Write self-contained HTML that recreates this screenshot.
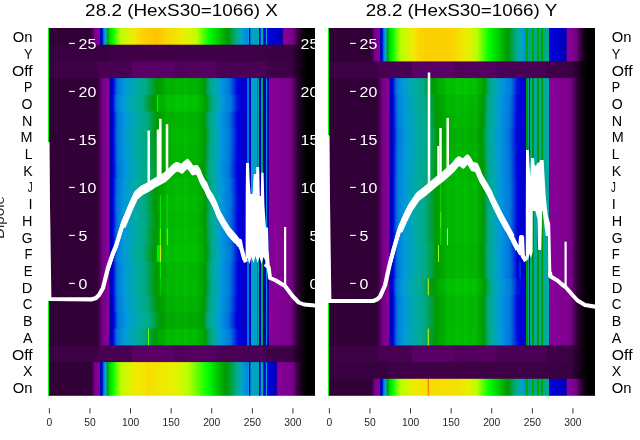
<!DOCTYPE html><html><head><meta charset="utf-8"><title>28.2 (HexS30=1066)</title><style>html,body{margin:0;padding:0;background:#fff;width:640px;height:440px;overflow:hidden;font-family:"Liberation Sans",sans-serif}</style></head><body><svg width="640" height="440" viewBox="0 0 640 440" style="position:absolute;left:0;top:0;will-change:transform"><rect width="640" height="440" fill="#fff"/><defs><linearGradient id="g0_0" gradientUnits="userSpaceOnUse" x1="48" x2="315" y1="0" y2="0"><stop offset="0" stop-color="#00ff00"/><stop offset="0.001873" stop-color="#00ff00"/><stop offset="0.003745" stop-color="#0099dd"/><stop offset="0.005618" stop-color="#300036"/><stop offset="0.161" stop-color="#300036"/><stop offset="0.1685" stop-color="#470052"/><stop offset="0.1742" stop-color="#770088"/><stop offset="0.1929" stop-color="#880099"/><stop offset="0.1948" stop-color="#3300a4"/><stop offset="0.1966" stop-color="#0000b0"/><stop offset="0.2022" stop-color="#0000dd"/><stop offset="0.2079" stop-color="#0063dd"/><stop offset="0.2097" stop-color="#007fdd"/><stop offset="0.2116" stop-color="#0093dd"/><stop offset="0.2135" stop-color="#00a0c9"/><stop offset="0.2154" stop-color="#00a9ad"/><stop offset="0.2191" stop-color="#00aa88"/><stop offset="0.221" stop-color="#00a13f"/><stop offset="0.2228" stop-color="#009b00"/><stop offset="0.2247" stop-color="#00ad00"/><stop offset="0.2322" stop-color="#00dd00"/><stop offset="0.2434" stop-color="#00ff00"/><stop offset="0.2584" stop-color="#70ff00"/><stop offset="0.2734" stop-color="#bbff00"/><stop offset="0.3221" stop-color="#f0eb00"/><stop offset="0.3539" stop-color="#fcd200"/><stop offset="0.4045" stop-color="#ffc300"/><stop offset="0.4438" stop-color="#fad600"/><stop offset="0.5075" stop-color="#eaef00"/><stop offset="0.5393" stop-color="#d1f800"/><stop offset="0.5581" stop-color="#bbff00"/><stop offset="0.603" stop-color="#00ff00"/><stop offset="0.6348" stop-color="#00d300"/><stop offset="0.661" stop-color="#00a900"/><stop offset="0.6742" stop-color="#009902"/><stop offset="0.6985" stop-color="#00a76d"/><stop offset="0.7041" stop-color="#00aa88"/><stop offset="0.721" stop-color="#00a8b1"/><stop offset="0.7322" stop-color="#0099dd"/><stop offset="0.7434" stop-color="#0088dd"/><stop offset="0.7453" stop-color="#00aa99"/><stop offset="0.7472" stop-color="#00a352"/><stop offset="0.7491" stop-color="#00a352"/><stop offset="0.7509" stop-color="#009dd1"/><stop offset="0.7528" stop-color="#007cdd"/><stop offset="0.7547" stop-color="#0000dd"/><stop offset="0.7566" stop-color="#0000dd"/><stop offset="0.7584" stop-color="#0062dd"/><stop offset="0.7603" stop-color="#0095dd"/><stop offset="0.7622" stop-color="#00a3be"/><stop offset="0.7809" stop-color="#00a3be"/><stop offset="0.7828" stop-color="#0096dd"/><stop offset="0.7846" stop-color="#00aa88"/><stop offset="0.7865" stop-color="#00aa88"/><stop offset="0.7884" stop-color="#00aaaa"/><stop offset="0.7903" stop-color="#004cdd"/><stop offset="0.7921" stop-color="#0007dd"/><stop offset="0.794" stop-color="#0000dd"/><stop offset="0.7959" stop-color="#003add"/><stop offset="0.7978" stop-color="#003ddd"/><stop offset="0.7996" stop-color="#00aa96"/><stop offset="0.8034" stop-color="#00aa96"/><stop offset="0.8052" stop-color="#0078dd"/><stop offset="0.8071" stop-color="#0025dd"/><stop offset="0.809" stop-color="#0000dd"/><stop offset="0.8109" stop-color="#0000dd"/><stop offset="0.8127" stop-color="#0015dd"/><stop offset="0.8146" stop-color="#001bdd"/><stop offset="0.8165" stop-color="#0089dd"/><stop offset="0.8184" stop-color="#00a0c9"/><stop offset="0.8202" stop-color="#00a0c9"/><stop offset="0.8221" stop-color="#000bdd"/><stop offset="0.8296" stop-color="#0000dc"/><stop offset="0.8633" stop-color="#0000c5"/><stop offset="0.8764" stop-color="#0000aa"/><stop offset="0.8839" stop-color="#880099"/><stop offset="0.9176" stop-color="#770088"/><stop offset="0.9326" stop-color="#3c0044"/><stop offset="0.9532" stop-color="#110014"/><stop offset="0.9719" stop-color="#000000"/><stop offset="1" stop-color="#000000"/></linearGradient><linearGradient id="g0_1" gradientUnits="userSpaceOnUse" x1="48" x2="315" y1="0" y2="0"><stop offset="0" stop-color="#00ff00"/><stop offset="0.001873" stop-color="#00ff00"/><stop offset="0.003745" stop-color="#0099dd"/><stop offset="0.005618" stop-color="#390041"/><stop offset="0.2247" stop-color="#390041"/><stop offset="0.2303" stop-color="#400049"/><stop offset="0.7809" stop-color="#3e0047"/><stop offset="0.912" stop-color="#37003f"/><stop offset="0.9682" stop-color="#000000"/><stop offset="1" stop-color="#000000"/></linearGradient><linearGradient id="g0_2" gradientUnits="userSpaceOnUse" x1="48" x2="315" y1="0" y2="0"><stop offset="0" stop-color="#00ff00"/><stop offset="0.001873" stop-color="#00ff00"/><stop offset="0.003745" stop-color="#0099dd"/><stop offset="0.005618" stop-color="#3c0044"/><stop offset="0.1854" stop-color="#3c0044"/><stop offset="0.1891" stop-color="#470052"/><stop offset="0.3127" stop-color="#470052"/><stop offset="0.3165" stop-color="#580065"/><stop offset="0.4682" stop-color="#580065"/><stop offset="0.4738" stop-color="#51005c"/><stop offset="0.5487" stop-color="#53005f"/><stop offset="0.6292" stop-color="#560062"/><stop offset="0.633" stop-color="#4a0054"/><stop offset="0.8146" stop-color="#4a0054"/><stop offset="0.8184" stop-color="#400049"/><stop offset="0.912" stop-color="#3c0045"/><stop offset="0.9663" stop-color="#000000"/><stop offset="1" stop-color="#000000"/></linearGradient><linearGradient id="g0_3" gradientUnits="userSpaceOnUse" x1="48" x2="315" y1="0" y2="0"><stop offset="0" stop-color="#00ff00"/><stop offset="0.001873" stop-color="#00ff00"/><stop offset="0.003745" stop-color="#0099dd"/><stop offset="0.005618" stop-color="#300036"/><stop offset="0.1816" stop-color="#300036"/><stop offset="0.191" stop-color="#43004c"/><stop offset="0.1985" stop-color="#5f006d"/><stop offset="0.2022" stop-color="#770088"/><stop offset="0.2266" stop-color="#880099"/><stop offset="0.2322" stop-color="#0400a9"/><stop offset="0.2378" stop-color="#0000c2"/><stop offset="0.2434" stop-color="#0000db"/><stop offset="0.2472" stop-color="#0019dd"/><stop offset="0.2584" stop-color="#0071dd"/><stop offset="0.264" stop-color="#007ddd"/><stop offset="0.2884" stop-color="#009adb"/><stop offset="0.3315" stop-color="#00aaa5"/><stop offset="0.367" stop-color="#00aa87"/><stop offset="0.3876" stop-color="#00a245"/><stop offset="0.3989" stop-color="#009d24"/><stop offset="0.4064" stop-color="#009901"/><stop offset="0.4232" stop-color="#00a000"/><stop offset="0.4363" stop-color="#00aa00"/><stop offset="0.4476" stop-color="#00b600"/><stop offset="0.4663" stop-color="#00af00"/><stop offset="0.4831" stop-color="#00b900"/><stop offset="0.5" stop-color="#00b300"/><stop offset="0.5169" stop-color="#00ba00"/><stop offset="0.5337" stop-color="#00b000"/><stop offset="0.5524" stop-color="#00b600"/><stop offset="0.5843" stop-color="#009d00"/><stop offset="0.5861" stop-color="#009900"/><stop offset="0.5974" stop-color="#00a353"/><stop offset="0.6086" stop-color="#00aa88"/><stop offset="0.6292" stop-color="#00a7b2"/><stop offset="0.6479" stop-color="#0097dd"/><stop offset="0.6798" stop-color="#0077dd"/><stop offset="0.7097" stop-color="#0003dd"/><stop offset="0.7434" stop-color="#0000cb"/><stop offset="0.7453" stop-color="#00aa9d"/><stop offset="0.7472" stop-color="#009900"/><stop offset="0.7491" stop-color="#009900"/><stop offset="0.7509" stop-color="#007edd"/><stop offset="0.7528" stop-color="#0000c6"/><stop offset="0.7584" stop-color="#0000c3"/><stop offset="0.7603" stop-color="#006fdd"/><stop offset="0.7622" stop-color="#00a0c9"/><stop offset="0.7809" stop-color="#00a0c9"/><stop offset="0.7828" stop-color="#007fdd"/><stop offset="0.7846" stop-color="#009900"/><stop offset="0.7865" stop-color="#009900"/><stop offset="0.7884" stop-color="#00aaa1"/><stop offset="0.7903" stop-color="#0000b2"/><stop offset="0.7978" stop-color="#0000ae"/><stop offset="0.7996" stop-color="#00a352"/><stop offset="0.8034" stop-color="#00a352"/><stop offset="0.8052" stop-color="#000add"/><stop offset="0.8071" stop-color="#0200aa"/><stop offset="0.8146" stop-color="#0d00a8"/><stop offset="0.8165" stop-color="#003ddd"/><stop offset="0.8184" stop-color="#008bdd"/><stop offset="0.8202" stop-color="#008bdd"/><stop offset="0.8221" stop-color="#1700a7"/><stop offset="0.8277" stop-color="#1f00a6"/><stop offset="0.8296" stop-color="#880099"/><stop offset="0.9026" stop-color="#7c008d"/><stop offset="0.912" stop-color="#760086"/><stop offset="0.9251" stop-color="#470052"/><stop offset="0.9345" stop-color="#2d0033"/><stop offset="0.9569" stop-color="#0d000f"/><stop offset="0.9719" stop-color="#000000"/><stop offset="1" stop-color="#000000"/></linearGradient><linearGradient id="g0_4" gradientUnits="userSpaceOnUse" x1="48" x2="315" y1="0" y2="0"><stop offset="0" stop-color="#00ff00"/><stop offset="0.001873" stop-color="#00ff00"/><stop offset="0.003745" stop-color="#0099dd"/><stop offset="0.005618" stop-color="#300036"/><stop offset="0.1816" stop-color="#300036"/><stop offset="0.191" stop-color="#43004c"/><stop offset="0.1985" stop-color="#5f006d"/><stop offset="0.2022" stop-color="#770088"/><stop offset="0.2266" stop-color="#880099"/><stop offset="0.2285" stop-color="#5b009f"/><stop offset="0.2303" stop-color="#2200a6"/><stop offset="0.2322" stop-color="#0000af"/><stop offset="0.2416" stop-color="#0000da"/><stop offset="0.2566" stop-color="#0078dd"/><stop offset="0.2809" stop-color="#009adb"/><stop offset="0.3202" stop-color="#00aaa5"/><stop offset="0.3539" stop-color="#00aa87"/><stop offset="0.3858" stop-color="#009c1b"/><stop offset="0.397" stop-color="#009a00"/><stop offset="0.4157" stop-color="#00ac00"/><stop offset="0.4326" stop-color="#00b200"/><stop offset="0.4476" stop-color="#00c300"/><stop offset="0.4644" stop-color="#00bc00"/><stop offset="0.4831" stop-color="#00c700"/><stop offset="0.5" stop-color="#00c100"/><stop offset="0.5169" stop-color="#00c800"/><stop offset="0.5337" stop-color="#00bd00"/><stop offset="0.5506" stop-color="#00c500"/><stop offset="0.5843" stop-color="#00a900"/><stop offset="0.5918" stop-color="#009a00"/><stop offset="0.6011" stop-color="#00a03a"/><stop offset="0.6105" stop-color="#00a667"/><stop offset="0.6142" stop-color="#00aa85"/><stop offset="0.6348" stop-color="#00a7b2"/><stop offset="0.6517" stop-color="#009ada"/><stop offset="0.6854" stop-color="#0078dd"/><stop offset="0.7116" stop-color="#000edd"/><stop offset="0.7247" stop-color="#0000dc"/><stop offset="0.7434" stop-color="#0000d2"/><stop offset="0.7453" stop-color="#00aa9b"/><stop offset="0.7472" stop-color="#009900"/><stop offset="0.7491" stop-color="#009900"/><stop offset="0.7509" stop-color="#0081dd"/><stop offset="0.7528" stop-color="#0000cd"/><stop offset="0.7584" stop-color="#0000ca"/><stop offset="0.7603" stop-color="#0077dd"/><stop offset="0.7622" stop-color="#00a0c9"/><stop offset="0.7809" stop-color="#00a0c9"/><stop offset="0.7828" stop-color="#0081dd"/><stop offset="0.7846" stop-color="#009900"/><stop offset="0.7865" stop-color="#009900"/><stop offset="0.7884" stop-color="#00aaa0"/><stop offset="0.7903" stop-color="#0000b9"/><stop offset="0.7978" stop-color="#0000b5"/><stop offset="0.7996" stop-color="#00a352"/><stop offset="0.8034" stop-color="#00a352"/><stop offset="0.8052" stop-color="#0016dd"/><stop offset="0.8071" stop-color="#0000af"/><stop offset="0.8146" stop-color="#0000ab"/><stop offset="0.8165" stop-color="#0043dd"/><stop offset="0.8184" stop-color="#008bdd"/><stop offset="0.8202" stop-color="#008bdd"/><stop offset="0.8221" stop-color="#0800a9"/><stop offset="0.8277" stop-color="#1000a8"/><stop offset="0.8296" stop-color="#880099"/><stop offset="0.9026" stop-color="#7c008d"/><stop offset="0.912" stop-color="#760086"/><stop offset="0.9251" stop-color="#470052"/><stop offset="0.9345" stop-color="#2d0033"/><stop offset="0.9569" stop-color="#0d000f"/><stop offset="0.9719" stop-color="#000000"/><stop offset="1" stop-color="#000000"/></linearGradient><linearGradient id="g0_5" gradientUnits="userSpaceOnUse" x1="48" x2="315" y1="0" y2="0"><stop offset="0" stop-color="#00ff00"/><stop offset="0.001873" stop-color="#00ff00"/><stop offset="0.003745" stop-color="#0099dd"/><stop offset="0.005618" stop-color="#300036"/><stop offset="0.1816" stop-color="#300036"/><stop offset="0.191" stop-color="#43004c"/><stop offset="0.1985" stop-color="#5f006d"/><stop offset="0.2022" stop-color="#770088"/><stop offset="0.2266" stop-color="#880099"/><stop offset="0.2322" stop-color="#0600a9"/><stop offset="0.2341" stop-color="#0000b0"/><stop offset="0.2434" stop-color="#0000da"/><stop offset="0.2453" stop-color="#0008dd"/><stop offset="0.2584" stop-color="#006edd"/><stop offset="0.2622" stop-color="#0079dd"/><stop offset="0.2903" stop-color="#009ada"/><stop offset="0.3315" stop-color="#00aaa6"/><stop offset="0.3689" stop-color="#00aa86"/><stop offset="0.3876" stop-color="#00a24b"/><stop offset="0.3989" stop-color="#009e2a"/><stop offset="0.4082" stop-color="#009900"/><stop offset="0.4326" stop-color="#00a300"/><stop offset="0.4476" stop-color="#00b400"/><stop offset="0.4663" stop-color="#00ae00"/><stop offset="0.4831" stop-color="#00b800"/><stop offset="0.5" stop-color="#00b200"/><stop offset="0.5169" stop-color="#00b900"/><stop offset="0.5337" stop-color="#00ae00"/><stop offset="0.5524" stop-color="#00b500"/><stop offset="0.5843" stop-color="#009b00"/><stop offset="0.5861" stop-color="#009a04"/><stop offset="0.5974" stop-color="#00a459"/><stop offset="0.6067" stop-color="#00aa86"/><stop offset="0.6292" stop-color="#00a7b4"/><stop offset="0.6461" stop-color="#0099dd"/><stop offset="0.6798" stop-color="#0075dd"/><stop offset="0.7097" stop-color="#0000dd"/><stop offset="0.7434" stop-color="#0000ca"/><stop offset="0.7453" stop-color="#00aa9d"/><stop offset="0.7472" stop-color="#009900"/><stop offset="0.7491" stop-color="#009900"/><stop offset="0.7509" stop-color="#007ddd"/><stop offset="0.7528" stop-color="#0000c5"/><stop offset="0.7584" stop-color="#0000c2"/><stop offset="0.7603" stop-color="#006edd"/><stop offset="0.7622" stop-color="#00a0c9"/><stop offset="0.7809" stop-color="#00a0c9"/><stop offset="0.7828" stop-color="#007fdd"/><stop offset="0.7846" stop-color="#009900"/><stop offset="0.7865" stop-color="#009900"/><stop offset="0.7884" stop-color="#00aaa2"/><stop offset="0.7903" stop-color="#0000b1"/><stop offset="0.7978" stop-color="#0000ad"/><stop offset="0.7996" stop-color="#00a352"/><stop offset="0.8034" stop-color="#00a352"/><stop offset="0.8052" stop-color="#0008dd"/><stop offset="0.8071" stop-color="#0400a9"/><stop offset="0.8146" stop-color="#0f00a8"/><stop offset="0.8165" stop-color="#003ddd"/><stop offset="0.8184" stop-color="#008bdd"/><stop offset="0.8202" stop-color="#008bdd"/><stop offset="0.8221" stop-color="#1900a7"/><stop offset="0.8277" stop-color="#2100a6"/><stop offset="0.8296" stop-color="#880099"/><stop offset="0.9026" stop-color="#7c008d"/><stop offset="0.912" stop-color="#760086"/><stop offset="0.9251" stop-color="#470052"/><stop offset="0.9345" stop-color="#2d0033"/><stop offset="0.9569" stop-color="#0d000f"/><stop offset="0.9719" stop-color="#000000"/><stop offset="1" stop-color="#000000"/></linearGradient><linearGradient id="g0_6" gradientUnits="userSpaceOnUse" x1="48" x2="315" y1="0" y2="0"><stop offset="0" stop-color="#00ff00"/><stop offset="0.001873" stop-color="#00ff00"/><stop offset="0.003745" stop-color="#0099dd"/><stop offset="0.005618" stop-color="#300036"/><stop offset="0.1816" stop-color="#300036"/><stop offset="0.191" stop-color="#43004c"/><stop offset="0.1985" stop-color="#5f006d"/><stop offset="0.2022" stop-color="#770088"/><stop offset="0.2266" stop-color="#880099"/><stop offset="0.2322" stop-color="#0000aa"/><stop offset="0.2434" stop-color="#0000dd"/><stop offset="0.2584" stop-color="#0077dd"/><stop offset="0.2865" stop-color="#009ada"/><stop offset="0.3277" stop-color="#00aaa5"/><stop offset="0.3633" stop-color="#00aa88"/><stop offset="0.3876" stop-color="#00a039"/><stop offset="0.3989" stop-color="#009c18"/><stop offset="0.4045" stop-color="#009a00"/><stop offset="0.4195" stop-color="#00a300"/><stop offset="0.4326" stop-color="#00a800"/><stop offset="0.4476" stop-color="#00b900"/><stop offset="0.4663" stop-color="#00b300"/><stop offset="0.4831" stop-color="#00bd00"/><stop offset="0.5" stop-color="#00b700"/><stop offset="0.5169" stop-color="#00be00"/><stop offset="0.5337" stop-color="#00b300"/><stop offset="0.5524" stop-color="#00ba00"/><stop offset="0.5843" stop-color="#00a000"/><stop offset="0.588" stop-color="#009900"/><stop offset="0.5974" stop-color="#00a247"/><stop offset="0.6105" stop-color="#00aa87"/><stop offset="0.6311" stop-color="#00a7b3"/><stop offset="0.6479" stop-color="#0099dd"/><stop offset="0.6816" stop-color="#0077dd"/><stop offset="0.7116" stop-color="#0000dd"/><stop offset="0.7434" stop-color="#0000cd"/><stop offset="0.7453" stop-color="#00aa9c"/><stop offset="0.7472" stop-color="#009900"/><stop offset="0.7491" stop-color="#009900"/><stop offset="0.7509" stop-color="#007fdd"/><stop offset="0.7528" stop-color="#0000c8"/><stop offset="0.7584" stop-color="#0000c5"/><stop offset="0.7603" stop-color="#0071dd"/><stop offset="0.7622" stop-color="#00a0c9"/><stop offset="0.7809" stop-color="#00a0c9"/><stop offset="0.7828" stop-color="#0080dd"/><stop offset="0.7846" stop-color="#009900"/><stop offset="0.7865" stop-color="#009900"/><stop offset="0.7884" stop-color="#00aaa1"/><stop offset="0.7903" stop-color="#0000b4"/><stop offset="0.7978" stop-color="#0000b0"/><stop offset="0.7996" stop-color="#00a352"/><stop offset="0.8034" stop-color="#00a352"/><stop offset="0.8052" stop-color="#000ddd"/><stop offset="0.8071" stop-color="#0000ab"/><stop offset="0.8146" stop-color="#0900a9"/><stop offset="0.8165" stop-color="#003fdd"/><stop offset="0.8184" stop-color="#008bdd"/><stop offset="0.8202" stop-color="#008bdd"/><stop offset="0.8221" stop-color="#1300a8"/><stop offset="0.8277" stop-color="#1b00a7"/><stop offset="0.8296" stop-color="#880099"/><stop offset="0.9026" stop-color="#7c008d"/><stop offset="0.912" stop-color="#760086"/><stop offset="0.9251" stop-color="#470052"/><stop offset="0.9345" stop-color="#2d0033"/><stop offset="0.9569" stop-color="#0d000f"/><stop offset="0.9719" stop-color="#000000"/><stop offset="1" stop-color="#000000"/></linearGradient><linearGradient id="g0_7" gradientUnits="userSpaceOnUse" x1="48" x2="315" y1="0" y2="0"><stop offset="0" stop-color="#00ff00"/><stop offset="0.001873" stop-color="#00ff00"/><stop offset="0.003745" stop-color="#0099dd"/><stop offset="0.005618" stop-color="#300036"/><stop offset="0.1816" stop-color="#300036"/><stop offset="0.191" stop-color="#43004c"/><stop offset="0.1985" stop-color="#5f006d"/><stop offset="0.2022" stop-color="#770088"/><stop offset="0.2266" stop-color="#880099"/><stop offset="0.2322" stop-color="#0400a9"/><stop offset="0.2378" stop-color="#0000c2"/><stop offset="0.2434" stop-color="#0000db"/><stop offset="0.2472" stop-color="#0019dd"/><stop offset="0.2584" stop-color="#0071dd"/><stop offset="0.264" stop-color="#007ddd"/><stop offset="0.2884" stop-color="#009adb"/><stop offset="0.3315" stop-color="#00aaa5"/><stop offset="0.367" stop-color="#00aa87"/><stop offset="0.3876" stop-color="#00a245"/><stop offset="0.3989" stop-color="#009d24"/><stop offset="0.4064" stop-color="#009901"/><stop offset="0.4232" stop-color="#00a000"/><stop offset="0.4363" stop-color="#00aa00"/><stop offset="0.4476" stop-color="#00b600"/><stop offset="0.4663" stop-color="#00af00"/><stop offset="0.4831" stop-color="#00b900"/><stop offset="0.5" stop-color="#00b300"/><stop offset="0.5169" stop-color="#00ba00"/><stop offset="0.5337" stop-color="#00b000"/><stop offset="0.5524" stop-color="#00b600"/><stop offset="0.5843" stop-color="#009d00"/><stop offset="0.5861" stop-color="#009900"/><stop offset="0.5974" stop-color="#00a353"/><stop offset="0.6086" stop-color="#00aa88"/><stop offset="0.6292" stop-color="#00a7b2"/><stop offset="0.6479" stop-color="#0097dd"/><stop offset="0.6798" stop-color="#0077dd"/><stop offset="0.7097" stop-color="#0003dd"/><stop offset="0.7434" stop-color="#0000cb"/><stop offset="0.7453" stop-color="#00aa9d"/><stop offset="0.7472" stop-color="#009900"/><stop offset="0.7491" stop-color="#009900"/><stop offset="0.7509" stop-color="#007edd"/><stop offset="0.7528" stop-color="#0000c6"/><stop offset="0.7584" stop-color="#0000c3"/><stop offset="0.7603" stop-color="#006fdd"/><stop offset="0.7622" stop-color="#00a0c9"/><stop offset="0.7809" stop-color="#00a0c9"/><stop offset="0.7828" stop-color="#007fdd"/><stop offset="0.7846" stop-color="#009900"/><stop offset="0.7865" stop-color="#009900"/><stop offset="0.7884" stop-color="#00aaa1"/><stop offset="0.7903" stop-color="#0000b2"/><stop offset="0.7978" stop-color="#0000ae"/><stop offset="0.7996" stop-color="#00a352"/><stop offset="0.8034" stop-color="#00a352"/><stop offset="0.8052" stop-color="#000add"/><stop offset="0.8071" stop-color="#0200aa"/><stop offset="0.8146" stop-color="#0d00a8"/><stop offset="0.8165" stop-color="#003ddd"/><stop offset="0.8184" stop-color="#008bdd"/><stop offset="0.8202" stop-color="#008bdd"/><stop offset="0.8221" stop-color="#1700a7"/><stop offset="0.8277" stop-color="#1f00a6"/><stop offset="0.8296" stop-color="#880099"/><stop offset="0.9026" stop-color="#7c008d"/><stop offset="0.912" stop-color="#760086"/><stop offset="0.9251" stop-color="#470052"/><stop offset="0.9345" stop-color="#2d0033"/><stop offset="0.9569" stop-color="#0d000f"/><stop offset="0.9719" stop-color="#000000"/><stop offset="1" stop-color="#000000"/></linearGradient><linearGradient id="g0_8" gradientUnits="userSpaceOnUse" x1="48" x2="315" y1="0" y2="0"><stop offset="0" stop-color="#00ff00"/><stop offset="0.001873" stop-color="#00ff00"/><stop offset="0.003745" stop-color="#0099dd"/><stop offset="0.005618" stop-color="#300036"/><stop offset="0.1816" stop-color="#300036"/><stop offset="0.191" stop-color="#43004c"/><stop offset="0.1985" stop-color="#5f006d"/><stop offset="0.2022" stop-color="#770088"/><stop offset="0.2266" stop-color="#880099"/><stop offset="0.2285" stop-color="#5b009f"/><stop offset="0.2303" stop-color="#3600a3"/><stop offset="0.2322" stop-color="#0a00a9"/><stop offset="0.2341" stop-color="#0000ae"/><stop offset="0.2453" stop-color="#0003dd"/><stop offset="0.2584" stop-color="#0068dd"/><stop offset="0.2622" stop-color="#0077dd"/><stop offset="0.2921" stop-color="#009adb"/><stop offset="0.3352" stop-color="#00aaa5"/><stop offset="0.3727" stop-color="#00aa85"/><stop offset="0.3876" stop-color="#00a457"/><stop offset="0.3989" stop-color="#00a036"/><stop offset="0.4101" stop-color="#009a05"/><stop offset="0.4139" stop-color="#009a00"/><stop offset="0.4326" stop-color="#00a000"/><stop offset="0.4476" stop-color="#00b000"/><stop offset="0.4663" stop-color="#00ab00"/><stop offset="0.4831" stop-color="#00b400"/><stop offset="0.5" stop-color="#00ae00"/><stop offset="0.5169" stop-color="#00b500"/><stop offset="0.5337" stop-color="#00ab00"/><stop offset="0.5524" stop-color="#00b100"/><stop offset="0.5824" stop-color="#009b00"/><stop offset="0.5843" stop-color="#009903"/><stop offset="0.5974" stop-color="#00a664"/><stop offset="0.6049" stop-color="#00aa88"/><stop offset="0.618" stop-color="#00aa9e"/><stop offset="0.633" stop-color="#00a3c0"/><stop offset="0.6461" stop-color="#0097dd"/><stop offset="0.6779" stop-color="#0075dd"/><stop offset="0.7079" stop-color="#0003dd"/><stop offset="0.7434" stop-color="#0000c8"/><stop offset="0.7453" stop-color="#00aa9d"/><stop offset="0.7472" stop-color="#009900"/><stop offset="0.7491" stop-color="#009900"/><stop offset="0.7509" stop-color="#007cdd"/><stop offset="0.7528" stop-color="#0000c3"/><stop offset="0.7584" stop-color="#0000c0"/><stop offset="0.7603" stop-color="#006cdd"/><stop offset="0.7622" stop-color="#00a0c9"/><stop offset="0.7809" stop-color="#00a0c9"/><stop offset="0.7828" stop-color="#007edd"/><stop offset="0.7846" stop-color="#009900"/><stop offset="0.7865" stop-color="#009900"/><stop offset="0.7884" stop-color="#00aaa2"/><stop offset="0.7903" stop-color="#0000b0"/><stop offset="0.7978" stop-color="#0000ac"/><stop offset="0.7996" stop-color="#00a352"/><stop offset="0.8034" stop-color="#00a352"/><stop offset="0.8052" stop-color="#0006dd"/><stop offset="0.8071" stop-color="#0800a9"/><stop offset="0.8146" stop-color="#1300a8"/><stop offset="0.8165" stop-color="#003bdd"/><stop offset="0.8184" stop-color="#008bdd"/><stop offset="0.8202" stop-color="#008bdd"/><stop offset="0.8221" stop-color="#1d00a6"/><stop offset="0.8277" stop-color="#2500a5"/><stop offset="0.8296" stop-color="#880099"/><stop offset="0.9026" stop-color="#7c008d"/><stop offset="0.912" stop-color="#760086"/><stop offset="0.9251" stop-color="#470052"/><stop offset="0.9345" stop-color="#2d0033"/><stop offset="0.9569" stop-color="#0d000f"/><stop offset="0.9719" stop-color="#000000"/><stop offset="1" stop-color="#000000"/></linearGradient><linearGradient id="g0_9" gradientUnits="userSpaceOnUse" x1="48" x2="315" y1="0" y2="0"><stop offset="0" stop-color="#00ff00"/><stop offset="0.001873" stop-color="#00ff00"/><stop offset="0.003745" stop-color="#0099dd"/><stop offset="0.005618" stop-color="#300036"/><stop offset="0.1816" stop-color="#300036"/><stop offset="0.191" stop-color="#43004c"/><stop offset="0.1985" stop-color="#5f006d"/><stop offset="0.2022" stop-color="#770088"/><stop offset="0.2266" stop-color="#880099"/><stop offset="0.2322" stop-color="#0000aa"/><stop offset="0.2434" stop-color="#0000dd"/><stop offset="0.2584" stop-color="#0077dd"/><stop offset="0.2865" stop-color="#009ada"/><stop offset="0.3277" stop-color="#00aaa5"/><stop offset="0.3633" stop-color="#00aa88"/><stop offset="0.3876" stop-color="#00a039"/><stop offset="0.3989" stop-color="#009c18"/><stop offset="0.4045" stop-color="#009a00"/><stop offset="0.4195" stop-color="#00a300"/><stop offset="0.4326" stop-color="#00a800"/><stop offset="0.4476" stop-color="#00b900"/><stop offset="0.4663" stop-color="#00b300"/><stop offset="0.4831" stop-color="#00bd00"/><stop offset="0.5" stop-color="#00b700"/><stop offset="0.5169" stop-color="#00be00"/><stop offset="0.5337" stop-color="#00b300"/><stop offset="0.5524" stop-color="#00ba00"/><stop offset="0.5843" stop-color="#00a000"/><stop offset="0.588" stop-color="#009900"/><stop offset="0.5974" stop-color="#00a247"/><stop offset="0.6105" stop-color="#00aa87"/><stop offset="0.6311" stop-color="#00a7b3"/><stop offset="0.6479" stop-color="#0099dd"/><stop offset="0.6816" stop-color="#0077dd"/><stop offset="0.7116" stop-color="#0000dd"/><stop offset="0.7434" stop-color="#0000cd"/><stop offset="0.7453" stop-color="#00aa9c"/><stop offset="0.7472" stop-color="#009900"/><stop offset="0.7491" stop-color="#009900"/><stop offset="0.7509" stop-color="#007fdd"/><stop offset="0.7528" stop-color="#0000c8"/><stop offset="0.7584" stop-color="#0000c5"/><stop offset="0.7603" stop-color="#0071dd"/><stop offset="0.7622" stop-color="#00a0c9"/><stop offset="0.7809" stop-color="#00a0c9"/><stop offset="0.7828" stop-color="#0080dd"/><stop offset="0.7846" stop-color="#009900"/><stop offset="0.7865" stop-color="#009900"/><stop offset="0.7884" stop-color="#00aaa1"/><stop offset="0.7903" stop-color="#0000b4"/><stop offset="0.7978" stop-color="#0000b0"/><stop offset="0.7996" stop-color="#00a352"/><stop offset="0.8034" stop-color="#00a352"/><stop offset="0.8052" stop-color="#000ddd"/><stop offset="0.8071" stop-color="#0000ab"/><stop offset="0.8146" stop-color="#0900a9"/><stop offset="0.8165" stop-color="#003fdd"/><stop offset="0.8184" stop-color="#008bdd"/><stop offset="0.8202" stop-color="#008bdd"/><stop offset="0.8221" stop-color="#1300a8"/><stop offset="0.8277" stop-color="#1b00a7"/><stop offset="0.8296" stop-color="#880099"/><stop offset="0.9026" stop-color="#7c008d"/><stop offset="0.912" stop-color="#760086"/><stop offset="0.9251" stop-color="#470052"/><stop offset="0.9345" stop-color="#2d0033"/><stop offset="0.9569" stop-color="#0d000f"/><stop offset="0.9719" stop-color="#000000"/><stop offset="1" stop-color="#000000"/></linearGradient><linearGradient id="g0_10" gradientUnits="userSpaceOnUse" x1="48" x2="315" y1="0" y2="0"><stop offset="0" stop-color="#00ff00"/><stop offset="0.001873" stop-color="#00ff00"/><stop offset="0.003745" stop-color="#0099dd"/><stop offset="0.005618" stop-color="#300036"/><stop offset="0.1816" stop-color="#300036"/><stop offset="0.191" stop-color="#43004c"/><stop offset="0.1985" stop-color="#5f006d"/><stop offset="0.2022" stop-color="#770088"/><stop offset="0.2266" stop-color="#880099"/><stop offset="0.2303" stop-color="#2a00a5"/><stop offset="0.2322" stop-color="#0000ac"/><stop offset="0.2416" stop-color="#0000d6"/><stop offset="0.2434" stop-color="#0005dd"/><stop offset="0.2566" stop-color="#006edd"/><stop offset="0.2584" stop-color="#0079dd"/><stop offset="0.2846" stop-color="#009ada"/><stop offset="0.3258" stop-color="#00aaa5"/><stop offset="0.3596" stop-color="#00aa88"/><stop offset="0.3876" stop-color="#009f2e"/><stop offset="0.3989" stop-color="#009a0c"/><stop offset="0.4026" stop-color="#009a00"/><stop offset="0.4176" stop-color="#00a600"/><stop offset="0.4326" stop-color="#00ab00"/><stop offset="0.4476" stop-color="#00bc00"/><stop offset="0.4644" stop-color="#00b500"/><stop offset="0.4831" stop-color="#00c000"/><stop offset="0.5" stop-color="#00ba00"/><stop offset="0.5169" stop-color="#00c100"/><stop offset="0.5337" stop-color="#00b700"/><stop offset="0.5506" stop-color="#00be00"/><stop offset="0.5843" stop-color="#00a300"/><stop offset="0.5899" stop-color="#009903"/><stop offset="0.5974" stop-color="#00a03c"/><stop offset="0.6124" stop-color="#00aa89"/><stop offset="0.633" stop-color="#00a7b4"/><stop offset="0.6498" stop-color="#0099dd"/><stop offset="0.6835" stop-color="#0075dd"/><stop offset="0.7116" stop-color="#0005dd"/><stop offset="0.7228" stop-color="#0000d9"/><stop offset="0.7434" stop-color="#0000cf"/><stop offset="0.7453" stop-color="#00aa9c"/><stop offset="0.7472" stop-color="#009900"/><stop offset="0.7491" stop-color="#009900"/><stop offset="0.7509" stop-color="#007fdd"/><stop offset="0.7528" stop-color="#0000ca"/><stop offset="0.7584" stop-color="#0000c7"/><stop offset="0.7603" stop-color="#0073dd"/><stop offset="0.7622" stop-color="#00a0c9"/><stop offset="0.7809" stop-color="#00a0c9"/><stop offset="0.7828" stop-color="#0080dd"/><stop offset="0.7846" stop-color="#009900"/><stop offset="0.7865" stop-color="#009900"/><stop offset="0.7884" stop-color="#00aaa1"/><stop offset="0.7903" stop-color="#0000b5"/><stop offset="0.7978" stop-color="#0000b1"/><stop offset="0.7996" stop-color="#00a352"/><stop offset="0.8034" stop-color="#00a352"/><stop offset="0.8052" stop-color="#0010dd"/><stop offset="0.8071" stop-color="#0000ac"/><stop offset="0.8146" stop-color="#0500a9"/><stop offset="0.8165" stop-color="#0040dd"/><stop offset="0.8184" stop-color="#008bdd"/><stop offset="0.8202" stop-color="#008bdd"/><stop offset="0.8221" stop-color="#0f00a8"/><stop offset="0.8277" stop-color="#1700a7"/><stop offset="0.8296" stop-color="#880099"/><stop offset="0.9026" stop-color="#7c008d"/><stop offset="0.912" stop-color="#760086"/><stop offset="0.9251" stop-color="#470052"/><stop offset="0.9345" stop-color="#2d0033"/><stop offset="0.9569" stop-color="#0d000f"/><stop offset="0.9719" stop-color="#000000"/><stop offset="1" stop-color="#000000"/></linearGradient><linearGradient id="g0_11" gradientUnits="userSpaceOnUse" x1="48" x2="315" y1="0" y2="0"><stop offset="0" stop-color="#00ff00"/><stop offset="0.001873" stop-color="#00ff00"/><stop offset="0.003745" stop-color="#0099dd"/><stop offset="0.005618" stop-color="#300036"/><stop offset="0.1816" stop-color="#300036"/><stop offset="0.191" stop-color="#43004c"/><stop offset="0.1985" stop-color="#5f006d"/><stop offset="0.2022" stop-color="#770088"/><stop offset="0.2266" stop-color="#880099"/><stop offset="0.2322" stop-color="#0000aa"/><stop offset="0.2434" stop-color="#0000dd"/><stop offset="0.2584" stop-color="#0077dd"/><stop offset="0.2865" stop-color="#009ada"/><stop offset="0.3277" stop-color="#00aaa5"/><stop offset="0.3633" stop-color="#00aa88"/><stop offset="0.3876" stop-color="#00a039"/><stop offset="0.3989" stop-color="#009c18"/><stop offset="0.4045" stop-color="#009a00"/><stop offset="0.4195" stop-color="#00a300"/><stop offset="0.4326" stop-color="#00a800"/><stop offset="0.4476" stop-color="#00b900"/><stop offset="0.4663" stop-color="#00b300"/><stop offset="0.4831" stop-color="#00bd00"/><stop offset="0.5" stop-color="#00b700"/><stop offset="0.5169" stop-color="#00be00"/><stop offset="0.5337" stop-color="#00b300"/><stop offset="0.5524" stop-color="#00ba00"/><stop offset="0.5843" stop-color="#00a000"/><stop offset="0.588" stop-color="#009900"/><stop offset="0.5974" stop-color="#00a247"/><stop offset="0.6105" stop-color="#00aa87"/><stop offset="0.6311" stop-color="#00a7b3"/><stop offset="0.6479" stop-color="#0099dd"/><stop offset="0.6816" stop-color="#0077dd"/><stop offset="0.7116" stop-color="#0000dd"/><stop offset="0.7434" stop-color="#0000cd"/><stop offset="0.7453" stop-color="#00aa9c"/><stop offset="0.7472" stop-color="#009900"/><stop offset="0.7491" stop-color="#009900"/><stop offset="0.7509" stop-color="#007fdd"/><stop offset="0.7528" stop-color="#0000c8"/><stop offset="0.7584" stop-color="#0000c5"/><stop offset="0.7603" stop-color="#0071dd"/><stop offset="0.7622" stop-color="#00a0c9"/><stop offset="0.7809" stop-color="#00a0c9"/><stop offset="0.7828" stop-color="#0080dd"/><stop offset="0.7846" stop-color="#009900"/><stop offset="0.7865" stop-color="#009900"/><stop offset="0.7884" stop-color="#00aaa1"/><stop offset="0.7903" stop-color="#0000b4"/><stop offset="0.7978" stop-color="#0000b0"/><stop offset="0.7996" stop-color="#00a352"/><stop offset="0.8034" stop-color="#00a352"/><stop offset="0.8052" stop-color="#000ddd"/><stop offset="0.8071" stop-color="#0000ab"/><stop offset="0.8146" stop-color="#0900a9"/><stop offset="0.8165" stop-color="#003fdd"/><stop offset="0.8184" stop-color="#008bdd"/><stop offset="0.8202" stop-color="#008bdd"/><stop offset="0.8221" stop-color="#1300a8"/><stop offset="0.8277" stop-color="#1b00a7"/><stop offset="0.8296" stop-color="#880099"/><stop offset="0.9026" stop-color="#7c008d"/><stop offset="0.912" stop-color="#760086"/><stop offset="0.9251" stop-color="#470052"/><stop offset="0.9345" stop-color="#2d0033"/><stop offset="0.9569" stop-color="#0d000f"/><stop offset="0.9719" stop-color="#000000"/><stop offset="1" stop-color="#000000"/></linearGradient><linearGradient id="g0_12" gradientUnits="userSpaceOnUse" x1="48" x2="315" y1="0" y2="0"><stop offset="0" stop-color="#00ff00"/><stop offset="0.001873" stop-color="#00ff00"/><stop offset="0.003745" stop-color="#0099dd"/><stop offset="0.005618" stop-color="#300036"/><stop offset="0.1816" stop-color="#300036"/><stop offset="0.191" stop-color="#43004c"/><stop offset="0.1985" stop-color="#5f006d"/><stop offset="0.2022" stop-color="#770088"/><stop offset="0.2266" stop-color="#880099"/><stop offset="0.2303" stop-color="#2a00a5"/><stop offset="0.2322" stop-color="#0000ac"/><stop offset="0.2416" stop-color="#0000d6"/><stop offset="0.2434" stop-color="#0005dd"/><stop offset="0.2566" stop-color="#006edd"/><stop offset="0.2584" stop-color="#0079dd"/><stop offset="0.2846" stop-color="#009ada"/><stop offset="0.3258" stop-color="#00aaa5"/><stop offset="0.3596" stop-color="#00aa88"/><stop offset="0.3876" stop-color="#009f2e"/><stop offset="0.3989" stop-color="#009a0c"/><stop offset="0.4026" stop-color="#009a00"/><stop offset="0.4176" stop-color="#00a600"/><stop offset="0.4326" stop-color="#00ab00"/><stop offset="0.4476" stop-color="#00bc00"/><stop offset="0.4644" stop-color="#00b500"/><stop offset="0.4831" stop-color="#00c000"/><stop offset="0.5" stop-color="#00ba00"/><stop offset="0.5169" stop-color="#00c100"/><stop offset="0.5337" stop-color="#00b700"/><stop offset="0.5506" stop-color="#00be00"/><stop offset="0.5843" stop-color="#00a300"/><stop offset="0.5899" stop-color="#009903"/><stop offset="0.5974" stop-color="#00a03c"/><stop offset="0.6124" stop-color="#00aa89"/><stop offset="0.633" stop-color="#00a7b4"/><stop offset="0.6498" stop-color="#0099dd"/><stop offset="0.6835" stop-color="#0075dd"/><stop offset="0.7116" stop-color="#0005dd"/><stop offset="0.7228" stop-color="#0000d9"/><stop offset="0.7434" stop-color="#0000cf"/><stop offset="0.7453" stop-color="#00aa9c"/><stop offset="0.7472" stop-color="#009900"/><stop offset="0.7491" stop-color="#009900"/><stop offset="0.7509" stop-color="#007fdd"/><stop offset="0.7528" stop-color="#0000ca"/><stop offset="0.7584" stop-color="#0000c7"/><stop offset="0.7603" stop-color="#0073dd"/><stop offset="0.7622" stop-color="#00a0c9"/><stop offset="0.7809" stop-color="#00a0c9"/><stop offset="0.7828" stop-color="#0080dd"/><stop offset="0.7846" stop-color="#009900"/><stop offset="0.7865" stop-color="#009900"/><stop offset="0.7884" stop-color="#00aaa1"/><stop offset="0.7903" stop-color="#0000b5"/><stop offset="0.7978" stop-color="#0000b1"/><stop offset="0.7996" stop-color="#00a352"/><stop offset="0.8034" stop-color="#00a352"/><stop offset="0.8052" stop-color="#0010dd"/><stop offset="0.8071" stop-color="#0000ac"/><stop offset="0.8146" stop-color="#0500a9"/><stop offset="0.8165" stop-color="#0040dd"/><stop offset="0.8184" stop-color="#008bdd"/><stop offset="0.8202" stop-color="#008bdd"/><stop offset="0.8221" stop-color="#0f00a8"/><stop offset="0.8277" stop-color="#1700a7"/><stop offset="0.8296" stop-color="#880099"/><stop offset="0.9026" stop-color="#7c008d"/><stop offset="0.912" stop-color="#760086"/><stop offset="0.9251" stop-color="#470052"/><stop offset="0.9345" stop-color="#2d0033"/><stop offset="0.9569" stop-color="#0d000f"/><stop offset="0.9719" stop-color="#000000"/><stop offset="1" stop-color="#000000"/></linearGradient><linearGradient id="g0_13" gradientUnits="userSpaceOnUse" x1="48" x2="315" y1="0" y2="0"><stop offset="0" stop-color="#00ff00"/><stop offset="0.001873" stop-color="#00ff00"/><stop offset="0.003745" stop-color="#0099dd"/><stop offset="0.005618" stop-color="#300036"/><stop offset="0.1816" stop-color="#300036"/><stop offset="0.191" stop-color="#43004c"/><stop offset="0.1985" stop-color="#5f006d"/><stop offset="0.2022" stop-color="#770088"/><stop offset="0.2266" stop-color="#880099"/><stop offset="0.2285" stop-color="#5b009f"/><stop offset="0.2303" stop-color="#2400a5"/><stop offset="0.2322" stop-color="#0000ae"/><stop offset="0.2416" stop-color="#0000d9"/><stop offset="0.2509" stop-color="#0049dd"/><stop offset="0.2566" stop-color="#0077dd"/><stop offset="0.2809" stop-color="#0099dd"/><stop offset="0.3221" stop-color="#00aaa4"/><stop offset="0.3558" stop-color="#00aa86"/><stop offset="0.3876" stop-color="#009d1c"/><stop offset="0.397" stop-color="#009901"/><stop offset="0.4176" stop-color="#00ab00"/><stop offset="0.4326" stop-color="#00b000"/><stop offset="0.4476" stop-color="#00c100"/><stop offset="0.4644" stop-color="#00ba00"/><stop offset="0.4831" stop-color="#00c500"/><stop offset="0.5" stop-color="#00bf00"/><stop offset="0.5169" stop-color="#00c600"/><stop offset="0.5337" stop-color="#00bc00"/><stop offset="0.5506" stop-color="#00c300"/><stop offset="0.5843" stop-color="#00a800"/><stop offset="0.5918" stop-color="#009901"/><stop offset="0.5993" stop-color="#00a036"/><stop offset="0.6105" stop-color="#00a76c"/><stop offset="0.6142" stop-color="#00aa89"/><stop offset="0.6348" stop-color="#00a7b4"/><stop offset="0.6517" stop-color="#009adb"/><stop offset="0.6854" stop-color="#0077dd"/><stop offset="0.7116" stop-color="#000cdd"/><stop offset="0.7247" stop-color="#0000db"/><stop offset="0.7434" stop-color="#0000d1"/><stop offset="0.7453" stop-color="#00aa9c"/><stop offset="0.7472" stop-color="#009900"/><stop offset="0.7491" stop-color="#009900"/><stop offset="0.7509" stop-color="#0081dd"/><stop offset="0.7528" stop-color="#0000cc"/><stop offset="0.7584" stop-color="#0000c9"/><stop offset="0.7603" stop-color="#0077dd"/><stop offset="0.7622" stop-color="#00a0c9"/><stop offset="0.7809" stop-color="#00a0c9"/><stop offset="0.7828" stop-color="#0081dd"/><stop offset="0.7846" stop-color="#009900"/><stop offset="0.7865" stop-color="#009900"/><stop offset="0.7884" stop-color="#00aaa0"/><stop offset="0.7903" stop-color="#0000b8"/><stop offset="0.7978" stop-color="#0000b4"/><stop offset="0.7996" stop-color="#00a352"/><stop offset="0.8034" stop-color="#00a352"/><stop offset="0.8052" stop-color="#0014dd"/><stop offset="0.8071" stop-color="#0000af"/><stop offset="0.8146" stop-color="#0000ab"/><stop offset="0.8165" stop-color="#0042dd"/><stop offset="0.8184" stop-color="#008bdd"/><stop offset="0.8202" stop-color="#008bdd"/><stop offset="0.8221" stop-color="#0900a9"/><stop offset="0.8277" stop-color="#1200a8"/><stop offset="0.8296" stop-color="#880099"/><stop offset="0.9026" stop-color="#7c008d"/><stop offset="0.912" stop-color="#760086"/><stop offset="0.9251" stop-color="#470052"/><stop offset="0.9345" stop-color="#2d0033"/><stop offset="0.9569" stop-color="#0d000f"/><stop offset="0.9719" stop-color="#000000"/><stop offset="1" stop-color="#000000"/></linearGradient><linearGradient id="g0_14" gradientUnits="userSpaceOnUse" x1="48" x2="315" y1="0" y2="0"><stop offset="0" stop-color="#00ff00"/><stop offset="0.001873" stop-color="#00ff00"/><stop offset="0.003745" stop-color="#0099dd"/><stop offset="0.005618" stop-color="#300036"/><stop offset="0.1816" stop-color="#300036"/><stop offset="0.191" stop-color="#43004c"/><stop offset="0.1985" stop-color="#5f006d"/><stop offset="0.2022" stop-color="#770088"/><stop offset="0.2266" stop-color="#880099"/><stop offset="0.2322" stop-color="#0000aa"/><stop offset="0.2434" stop-color="#0000dd"/><stop offset="0.2584" stop-color="#0077dd"/><stop offset="0.2865" stop-color="#009ada"/><stop offset="0.3277" stop-color="#00aaa5"/><stop offset="0.3633" stop-color="#00aa88"/><stop offset="0.3876" stop-color="#00a039"/><stop offset="0.3989" stop-color="#009c18"/><stop offset="0.4045" stop-color="#009a00"/><stop offset="0.4195" stop-color="#00a300"/><stop offset="0.4326" stop-color="#00a800"/><stop offset="0.4476" stop-color="#00b900"/><stop offset="0.4663" stop-color="#00b300"/><stop offset="0.4831" stop-color="#00bd00"/><stop offset="0.5" stop-color="#00b700"/><stop offset="0.5169" stop-color="#00be00"/><stop offset="0.5337" stop-color="#00b300"/><stop offset="0.5524" stop-color="#00ba00"/><stop offset="0.5843" stop-color="#00a000"/><stop offset="0.588" stop-color="#009900"/><stop offset="0.5974" stop-color="#00a247"/><stop offset="0.6105" stop-color="#00aa87"/><stop offset="0.6311" stop-color="#00a7b3"/><stop offset="0.6479" stop-color="#0099dd"/><stop offset="0.6816" stop-color="#0077dd"/><stop offset="0.7116" stop-color="#0000dd"/><stop offset="0.7434" stop-color="#0000cd"/><stop offset="0.7453" stop-color="#00aa9c"/><stop offset="0.7472" stop-color="#009900"/><stop offset="0.7491" stop-color="#009900"/><stop offset="0.7509" stop-color="#007fdd"/><stop offset="0.7528" stop-color="#0000c8"/><stop offset="0.7584" stop-color="#0000c5"/><stop offset="0.7603" stop-color="#0071dd"/><stop offset="0.7622" stop-color="#00a0c9"/><stop offset="0.7809" stop-color="#00a0c9"/><stop offset="0.7828" stop-color="#0080dd"/><stop offset="0.7846" stop-color="#009900"/><stop offset="0.7865" stop-color="#009900"/><stop offset="0.7884" stop-color="#00aaa1"/><stop offset="0.7903" stop-color="#0000b4"/><stop offset="0.7978" stop-color="#0000b0"/><stop offset="0.7996" stop-color="#00a352"/><stop offset="0.8034" stop-color="#00a352"/><stop offset="0.8052" stop-color="#000ddd"/><stop offset="0.8071" stop-color="#0000ab"/><stop offset="0.8146" stop-color="#0900a9"/><stop offset="0.8165" stop-color="#003fdd"/><stop offset="0.8184" stop-color="#008bdd"/><stop offset="0.8202" stop-color="#008bdd"/><stop offset="0.8221" stop-color="#1300a8"/><stop offset="0.8277" stop-color="#1b00a7"/><stop offset="0.8296" stop-color="#880099"/><stop offset="0.9026" stop-color="#7c008d"/><stop offset="0.912" stop-color="#760086"/><stop offset="0.9251" stop-color="#470052"/><stop offset="0.9345" stop-color="#2d0033"/><stop offset="0.9569" stop-color="#0d000f"/><stop offset="0.9719" stop-color="#000000"/><stop offset="1" stop-color="#000000"/></linearGradient><linearGradient id="g0_15" gradientUnits="userSpaceOnUse" x1="48" x2="315" y1="0" y2="0"><stop offset="0" stop-color="#00ff00"/><stop offset="0.001873" stop-color="#00ff00"/><stop offset="0.003745" stop-color="#0099dd"/><stop offset="0.005618" stop-color="#300036"/><stop offset="0.1816" stop-color="#300036"/><stop offset="0.191" stop-color="#43004c"/><stop offset="0.1985" stop-color="#5f006d"/><stop offset="0.2022" stop-color="#770088"/><stop offset="0.2266" stop-color="#880099"/><stop offset="0.2322" stop-color="#0000ab"/><stop offset="0.2434" stop-color="#0002dd"/><stop offset="0.2584" stop-color="#0078dd"/><stop offset="0.2846" stop-color="#009adb"/><stop offset="0.3277" stop-color="#00aaa4"/><stop offset="0.3614" stop-color="#00aa88"/><stop offset="0.3876" stop-color="#009f34"/><stop offset="0.3989" stop-color="#009b12"/><stop offset="0.4026" stop-color="#009900"/><stop offset="0.4176" stop-color="#00a500"/><stop offset="0.4326" stop-color="#00aa00"/><stop offset="0.4476" stop-color="#00bb00"/><stop offset="0.4644" stop-color="#00b400"/><stop offset="0.4831" stop-color="#00bf00"/><stop offset="0.5" stop-color="#00b800"/><stop offset="0.5169" stop-color="#00c000"/><stop offset="0.5337" stop-color="#00b500"/><stop offset="0.5506" stop-color="#00bc00"/><stop offset="0.5843" stop-color="#00a200"/><stop offset="0.588" stop-color="#009b00"/><stop offset="0.5899" stop-color="#009a09"/><stop offset="0.5974" stop-color="#00a142"/><stop offset="0.6124" stop-color="#00aa8a"/><stop offset="0.633" stop-color="#00a6b6"/><stop offset="0.6498" stop-color="#0098dd"/><stop offset="0.6816" stop-color="#0078dd"/><stop offset="0.7116" stop-color="#0002dd"/><stop offset="0.7434" stop-color="#0000ce"/><stop offset="0.7453" stop-color="#00aa9c"/><stop offset="0.7472" stop-color="#009900"/><stop offset="0.7491" stop-color="#009900"/><stop offset="0.7509" stop-color="#007fdd"/><stop offset="0.7528" stop-color="#0000c9"/><stop offset="0.7584" stop-color="#0000c6"/><stop offset="0.7603" stop-color="#0072dd"/><stop offset="0.7622" stop-color="#00a0c9"/><stop offset="0.7809" stop-color="#00a0c9"/><stop offset="0.7828" stop-color="#0080dd"/><stop offset="0.7846" stop-color="#009900"/><stop offset="0.7865" stop-color="#009900"/><stop offset="0.7884" stop-color="#00aaa1"/><stop offset="0.7903" stop-color="#0000b5"/><stop offset="0.7978" stop-color="#0000b1"/><stop offset="0.7996" stop-color="#00a352"/><stop offset="0.8034" stop-color="#00a352"/><stop offset="0.8052" stop-color="#000edd"/><stop offset="0.8071" stop-color="#0000ac"/><stop offset="0.8146" stop-color="#0700a9"/><stop offset="0.8165" stop-color="#003fdd"/><stop offset="0.8184" stop-color="#008bdd"/><stop offset="0.8202" stop-color="#008bdd"/><stop offset="0.8221" stop-color="#1100a8"/><stop offset="0.8277" stop-color="#1900a7"/><stop offset="0.8296" stop-color="#880099"/><stop offset="0.9026" stop-color="#7c008d"/><stop offset="0.912" stop-color="#760086"/><stop offset="0.9251" stop-color="#470052"/><stop offset="0.9345" stop-color="#2d0033"/><stop offset="0.9569" stop-color="#0d000f"/><stop offset="0.9719" stop-color="#000000"/><stop offset="1" stop-color="#000000"/></linearGradient><linearGradient id="g0_16" gradientUnits="userSpaceOnUse" x1="48" x2="315" y1="0" y2="0"><stop offset="0" stop-color="#00ff00"/><stop offset="0.001873" stop-color="#00ff00"/><stop offset="0.003745" stop-color="#0099dd"/><stop offset="0.005618" stop-color="#300036"/><stop offset="0.1816" stop-color="#300036"/><stop offset="0.191" stop-color="#43004c"/><stop offset="0.1985" stop-color="#5f006d"/><stop offset="0.2022" stop-color="#770088"/><stop offset="0.2266" stop-color="#880099"/><stop offset="0.2322" stop-color="#0600a9"/><stop offset="0.2341" stop-color="#0000b0"/><stop offset="0.2434" stop-color="#0000da"/><stop offset="0.2453" stop-color="#0008dd"/><stop offset="0.2584" stop-color="#006edd"/><stop offset="0.2622" stop-color="#0079dd"/><stop offset="0.2903" stop-color="#009ada"/><stop offset="0.3315" stop-color="#00aaa6"/><stop offset="0.3689" stop-color="#00aa86"/><stop offset="0.3876" stop-color="#00a24b"/><stop offset="0.3989" stop-color="#009e2a"/><stop offset="0.4082" stop-color="#009900"/><stop offset="0.4326" stop-color="#00a300"/><stop offset="0.4476" stop-color="#00b400"/><stop offset="0.4663" stop-color="#00ae00"/><stop offset="0.4831" stop-color="#00b800"/><stop offset="0.5" stop-color="#00b200"/><stop offset="0.5169" stop-color="#00b900"/><stop offset="0.5337" stop-color="#00ae00"/><stop offset="0.5524" stop-color="#00b500"/><stop offset="0.5843" stop-color="#009b00"/><stop offset="0.5861" stop-color="#009a04"/><stop offset="0.5974" stop-color="#00a459"/><stop offset="0.6067" stop-color="#00aa86"/><stop offset="0.6292" stop-color="#00a7b4"/><stop offset="0.6461" stop-color="#0099dd"/><stop offset="0.6798" stop-color="#0075dd"/><stop offset="0.7097" stop-color="#0000dd"/><stop offset="0.7434" stop-color="#0000ca"/><stop offset="0.7453" stop-color="#00aa9d"/><stop offset="0.7472" stop-color="#009900"/><stop offset="0.7491" stop-color="#009900"/><stop offset="0.7509" stop-color="#007ddd"/><stop offset="0.7528" stop-color="#0000c5"/><stop offset="0.7584" stop-color="#0000c2"/><stop offset="0.7603" stop-color="#006edd"/><stop offset="0.7622" stop-color="#00a0c9"/><stop offset="0.7809" stop-color="#00a0c9"/><stop offset="0.7828" stop-color="#007fdd"/><stop offset="0.7846" stop-color="#009900"/><stop offset="0.7865" stop-color="#009900"/><stop offset="0.7884" stop-color="#00aaa2"/><stop offset="0.7903" stop-color="#0000b1"/><stop offset="0.7978" stop-color="#0000ad"/><stop offset="0.7996" stop-color="#00a352"/><stop offset="0.8034" stop-color="#00a352"/><stop offset="0.8052" stop-color="#0008dd"/><stop offset="0.8071" stop-color="#0400a9"/><stop offset="0.8146" stop-color="#0f00a8"/><stop offset="0.8165" stop-color="#003ddd"/><stop offset="0.8184" stop-color="#008bdd"/><stop offset="0.8202" stop-color="#008bdd"/><stop offset="0.8221" stop-color="#1900a7"/><stop offset="0.8277" stop-color="#2100a6"/><stop offset="0.8296" stop-color="#880099"/><stop offset="0.9026" stop-color="#7c008d"/><stop offset="0.912" stop-color="#760086"/><stop offset="0.9251" stop-color="#470052"/><stop offset="0.9345" stop-color="#2d0033"/><stop offset="0.9569" stop-color="#0d000f"/><stop offset="0.9719" stop-color="#000000"/><stop offset="1" stop-color="#000000"/></linearGradient><linearGradient id="g0_17" gradientUnits="userSpaceOnUse" x1="48" x2="315" y1="0" y2="0"><stop offset="0" stop-color="#00ff00"/><stop offset="0.001873" stop-color="#00ff00"/><stop offset="0.003745" stop-color="#0099dd"/><stop offset="0.005618" stop-color="#300036"/><stop offset="0.1816" stop-color="#300036"/><stop offset="0.191" stop-color="#43004c"/><stop offset="0.1985" stop-color="#5f006d"/><stop offset="0.2022" stop-color="#770088"/><stop offset="0.2266" stop-color="#880099"/><stop offset="0.2285" stop-color="#5b009f"/><stop offset="0.2303" stop-color="#3c00a3"/><stop offset="0.2322" stop-color="#1000a8"/><stop offset="0.2341" stop-color="#0000ac"/><stop offset="0.2453" stop-color="#0000db"/><stop offset="0.2491" stop-color="#0018dd"/><stop offset="0.2584" stop-color="#005fdd"/><stop offset="0.264" stop-color="#0077dd"/><stop offset="0.294" stop-color="#0099dd"/><stop offset="0.3408" stop-color="#00aaa5"/><stop offset="0.3764" stop-color="#00aa88"/><stop offset="0.3989" stop-color="#00a248"/><stop offset="0.4101" stop-color="#009c17"/><stop offset="0.4176" stop-color="#009a0a"/><stop offset="0.427" stop-color="#009a08"/><stop offset="0.4326" stop-color="#009b00"/><stop offset="0.4476" stop-color="#00ab00"/><stop offset="0.4663" stop-color="#00a600"/><stop offset="0.4831" stop-color="#00af00"/><stop offset="0.5" stop-color="#00a900"/><stop offset="0.5169" stop-color="#00b000"/><stop offset="0.5337" stop-color="#00a600"/><stop offset="0.5524" stop-color="#00ac00"/><stop offset="0.5805" stop-color="#009902"/><stop offset="0.5861" stop-color="#009d23"/><stop offset="0.5974" stop-color="#00a875"/><stop offset="0.6011" stop-color="#00aa88"/><stop offset="0.6161" stop-color="#00aa9e"/><stop offset="0.6311" stop-color="#00a2c1"/><stop offset="0.6442" stop-color="#0097dd"/><stop offset="0.6742" stop-color="#0077dd"/><stop offset="0.6985" stop-color="#001fdd"/><stop offset="0.706" stop-color="#0002dd"/><stop offset="0.7172" stop-color="#0000d2"/><stop offset="0.7434" stop-color="#0000c5"/><stop offset="0.7453" stop-color="#00aa9e"/><stop offset="0.7472" stop-color="#009900"/><stop offset="0.7491" stop-color="#009900"/><stop offset="0.7509" stop-color="#007bdd"/><stop offset="0.7528" stop-color="#0000c0"/><stop offset="0.7584" stop-color="#0000be"/><stop offset="0.7603" stop-color="#0069dd"/><stop offset="0.7622" stop-color="#00a0c9"/><stop offset="0.7809" stop-color="#00a0c9"/><stop offset="0.7828" stop-color="#007edd"/><stop offset="0.7846" stop-color="#009900"/><stop offset="0.7865" stop-color="#009900"/><stop offset="0.7884" stop-color="#00aaa2"/><stop offset="0.7903" stop-color="#0000ad"/><stop offset="0.7978" stop-color="#0200aa"/><stop offset="0.7996" stop-color="#00a352"/><stop offset="0.8034" stop-color="#00a352"/><stop offset="0.8052" stop-color="#0001dd"/><stop offset="0.8071" stop-color="#0e00a8"/><stop offset="0.8146" stop-color="#1900a7"/><stop offset="0.8165" stop-color="#0039dd"/><stop offset="0.8184" stop-color="#008bdd"/><stop offset="0.8202" stop-color="#008bdd"/><stop offset="0.8221" stop-color="#2300a6"/><stop offset="0.8277" stop-color="#2a00a5"/><stop offset="0.8296" stop-color="#880099"/><stop offset="0.9026" stop-color="#7c008d"/><stop offset="0.912" stop-color="#760086"/><stop offset="0.9251" stop-color="#470052"/><stop offset="0.9345" stop-color="#2d0033"/><stop offset="0.9569" stop-color="#0d000f"/><stop offset="0.9719" stop-color="#000000"/><stop offset="1" stop-color="#000000"/></linearGradient><linearGradient id="g0_18" gradientUnits="userSpaceOnUse" x1="48" x2="315" y1="0" y2="0"><stop offset="0" stop-color="#00ff00"/><stop offset="0.001873" stop-color="#00ff00"/><stop offset="0.003745" stop-color="#0099dd"/><stop offset="0.005618" stop-color="#300036"/><stop offset="0.1816" stop-color="#300036"/><stop offset="0.191" stop-color="#43004c"/><stop offset="0.1985" stop-color="#5f006d"/><stop offset="0.2022" stop-color="#770088"/><stop offset="0.2266" stop-color="#880099"/><stop offset="0.2303" stop-color="#2a00a5"/><stop offset="0.2322" stop-color="#0000ac"/><stop offset="0.2416" stop-color="#0000d6"/><stop offset="0.2434" stop-color="#0005dd"/><stop offset="0.2566" stop-color="#006edd"/><stop offset="0.2584" stop-color="#0079dd"/><stop offset="0.2846" stop-color="#009ada"/><stop offset="0.3258" stop-color="#00aaa5"/><stop offset="0.3596" stop-color="#00aa88"/><stop offset="0.3876" stop-color="#009f2e"/><stop offset="0.3989" stop-color="#009a0c"/><stop offset="0.4026" stop-color="#009a00"/><stop offset="0.4176" stop-color="#00a600"/><stop offset="0.4326" stop-color="#00ab00"/><stop offset="0.4476" stop-color="#00bc00"/><stop offset="0.4644" stop-color="#00b500"/><stop offset="0.4831" stop-color="#00c000"/><stop offset="0.5" stop-color="#00ba00"/><stop offset="0.5169" stop-color="#00c100"/><stop offset="0.5337" stop-color="#00b700"/><stop offset="0.5506" stop-color="#00be00"/><stop offset="0.5843" stop-color="#00a300"/><stop offset="0.5899" stop-color="#009903"/><stop offset="0.5974" stop-color="#00a03c"/><stop offset="0.6124" stop-color="#00aa89"/><stop offset="0.633" stop-color="#00a7b4"/><stop offset="0.6498" stop-color="#0099dd"/><stop offset="0.6835" stop-color="#0075dd"/><stop offset="0.7116" stop-color="#0005dd"/><stop offset="0.7228" stop-color="#0000d9"/><stop offset="0.7434" stop-color="#0000cf"/><stop offset="0.7453" stop-color="#00aa9c"/><stop offset="0.7472" stop-color="#009900"/><stop offset="0.7491" stop-color="#009900"/><stop offset="0.7509" stop-color="#007fdd"/><stop offset="0.7528" stop-color="#0000ca"/><stop offset="0.7584" stop-color="#0000c7"/><stop offset="0.7603" stop-color="#0073dd"/><stop offset="0.7622" stop-color="#00a0c9"/><stop offset="0.7809" stop-color="#00a0c9"/><stop offset="0.7828" stop-color="#0080dd"/><stop offset="0.7846" stop-color="#009900"/><stop offset="0.7865" stop-color="#009900"/><stop offset="0.7884" stop-color="#00aaa1"/><stop offset="0.7903" stop-color="#0000b5"/><stop offset="0.7978" stop-color="#0000b1"/><stop offset="0.7996" stop-color="#00a352"/><stop offset="0.8034" stop-color="#00a352"/><stop offset="0.8052" stop-color="#0010dd"/><stop offset="0.8071" stop-color="#0000ac"/><stop offset="0.8146" stop-color="#0500a9"/><stop offset="0.8165" stop-color="#0040dd"/><stop offset="0.8184" stop-color="#008bdd"/><stop offset="0.8202" stop-color="#008bdd"/><stop offset="0.8221" stop-color="#0f00a8"/><stop offset="0.8277" stop-color="#1700a7"/><stop offset="0.8296" stop-color="#880099"/><stop offset="0.9026" stop-color="#7c008d"/><stop offset="0.912" stop-color="#760086"/><stop offset="0.9251" stop-color="#470052"/><stop offset="0.9345" stop-color="#2d0033"/><stop offset="0.9569" stop-color="#0d000f"/><stop offset="0.9719" stop-color="#000000"/><stop offset="1" stop-color="#000000"/></linearGradient><linearGradient id="g0_19" gradientUnits="userSpaceOnUse" x1="48" x2="315" y1="0" y2="0"><stop offset="0" stop-color="#00ff00"/><stop offset="0.001873" stop-color="#00ff00"/><stop offset="0.003745" stop-color="#0099dd"/><stop offset="0.005618" stop-color="#3c0044"/><stop offset="0.1854" stop-color="#3c0044"/><stop offset="0.1891" stop-color="#470052"/><stop offset="0.3127" stop-color="#470052"/><stop offset="0.3165" stop-color="#580065"/><stop offset="0.4682" stop-color="#580065"/><stop offset="0.4738" stop-color="#51005c"/><stop offset="0.5487" stop-color="#53005f"/><stop offset="0.6292" stop-color="#560062"/><stop offset="0.633" stop-color="#4a0054"/><stop offset="0.8146" stop-color="#4a0054"/><stop offset="0.8184" stop-color="#400049"/><stop offset="0.912" stop-color="#3c0045"/><stop offset="0.9663" stop-color="#000000"/><stop offset="1" stop-color="#000000"/></linearGradient><linearGradient id="g0_20" gradientUnits="userSpaceOnUse" x1="48" x2="315" y1="0" y2="0"><stop offset="0" stop-color="#00ff00"/><stop offset="0.001873" stop-color="#00ff00"/><stop offset="0.003745" stop-color="#0099dd"/><stop offset="0.005618" stop-color="#300036"/><stop offset="0.161" stop-color="#300036"/><stop offset="0.1685" stop-color="#470052"/><stop offset="0.1742" stop-color="#770088"/><stop offset="0.1929" stop-color="#880099"/><stop offset="0.1948" stop-color="#3300a4"/><stop offset="0.1966" stop-color="#0000b0"/><stop offset="0.2022" stop-color="#0000dd"/><stop offset="0.2079" stop-color="#0063dd"/><stop offset="0.2097" stop-color="#007fdd"/><stop offset="0.2116" stop-color="#0093dd"/><stop offset="0.2135" stop-color="#00a0c9"/><stop offset="0.2154" stop-color="#00a9ad"/><stop offset="0.2191" stop-color="#00aa88"/><stop offset="0.221" stop-color="#00a13f"/><stop offset="0.2228" stop-color="#009b00"/><stop offset="0.2247" stop-color="#00ad00"/><stop offset="0.2322" stop-color="#00dd00"/><stop offset="0.2434" stop-color="#00ff00"/><stop offset="0.2584" stop-color="#70ff00"/><stop offset="0.2734" stop-color="#bbff00"/><stop offset="0.3202" stop-color="#eeed00"/><stop offset="0.382" stop-color="#f5e000"/><stop offset="0.4607" stop-color="#ebef00"/><stop offset="0.4981" stop-color="#d2f700"/><stop offset="0.5262" stop-color="#b6ff00"/><stop offset="0.5993" stop-color="#00ff00"/><stop offset="0.6386" stop-color="#00be00"/><stop offset="0.6667" stop-color="#009900"/><stop offset="0.6929" stop-color="#00a352"/><stop offset="0.7041" stop-color="#00aa88"/><stop offset="0.721" stop-color="#00a8b1"/><stop offset="0.7322" stop-color="#0099dd"/><stop offset="0.7434" stop-color="#0088dd"/><stop offset="0.7453" stop-color="#00aa99"/><stop offset="0.7472" stop-color="#00a352"/><stop offset="0.7491" stop-color="#00a352"/><stop offset="0.7509" stop-color="#009dd1"/><stop offset="0.7528" stop-color="#007cdd"/><stop offset="0.7547" stop-color="#0000dd"/><stop offset="0.7566" stop-color="#0000dd"/><stop offset="0.7584" stop-color="#0062dd"/><stop offset="0.7603" stop-color="#0095dd"/><stop offset="0.7622" stop-color="#00a3be"/><stop offset="0.7809" stop-color="#00a3be"/><stop offset="0.7828" stop-color="#0096dd"/><stop offset="0.7846" stop-color="#00aa88"/><stop offset="0.7865" stop-color="#00aa88"/><stop offset="0.7884" stop-color="#00aaaa"/><stop offset="0.7903" stop-color="#004cdd"/><stop offset="0.7921" stop-color="#0007dd"/><stop offset="0.794" stop-color="#0000dd"/><stop offset="0.7959" stop-color="#003add"/><stop offset="0.7978" stop-color="#003ddd"/><stop offset="0.7996" stop-color="#00aa96"/><stop offset="0.8034" stop-color="#00aa96"/><stop offset="0.8052" stop-color="#0078dd"/><stop offset="0.8071" stop-color="#0025dd"/><stop offset="0.809" stop-color="#0000dd"/><stop offset="0.8109" stop-color="#0000dd"/><stop offset="0.8127" stop-color="#0015dd"/><stop offset="0.8146" stop-color="#001bdd"/><stop offset="0.8165" stop-color="#0089dd"/><stop offset="0.8184" stop-color="#00a0c9"/><stop offset="0.8202" stop-color="#00a0c9"/><stop offset="0.8221" stop-color="#000bdd"/><stop offset="0.8296" stop-color="#0000db"/><stop offset="0.8464" stop-color="#0000c9"/><stop offset="0.8539" stop-color="#0000aa"/><stop offset="0.8614" stop-color="#880099"/><stop offset="0.9082" stop-color="#7c008d"/><stop offset="0.9176" stop-color="#770088"/><stop offset="0.9326" stop-color="#3c0044"/><stop offset="0.9532" stop-color="#110014"/><stop offset="0.9719" stop-color="#000000"/><stop offset="1" stop-color="#000000"/></linearGradient><linearGradient id="g0_21" gradientUnits="userSpaceOnUse" x1="48" x2="315" y1="0" y2="0"><stop offset="0" stop-color="#00ff00"/><stop offset="0.001873" stop-color="#00ff00"/><stop offset="0.003745" stop-color="#0099dd"/><stop offset="0.005618" stop-color="#300036"/><stop offset="0.161" stop-color="#300036"/><stop offset="0.1685" stop-color="#470052"/><stop offset="0.1742" stop-color="#770088"/><stop offset="0.1929" stop-color="#880099"/><stop offset="0.1948" stop-color="#3300a4"/><stop offset="0.1966" stop-color="#0000b0"/><stop offset="0.2022" stop-color="#0000dd"/><stop offset="0.2079" stop-color="#0063dd"/><stop offset="0.2097" stop-color="#007fdd"/><stop offset="0.2116" stop-color="#0093dd"/><stop offset="0.2135" stop-color="#00a0c9"/><stop offset="0.2154" stop-color="#00a9ad"/><stop offset="0.2191" stop-color="#00aa88"/><stop offset="0.221" stop-color="#00a13f"/><stop offset="0.2228" stop-color="#009b00"/><stop offset="0.2247" stop-color="#00ad00"/><stop offset="0.2322" stop-color="#00dd00"/><stop offset="0.2434" stop-color="#00ff00"/><stop offset="0.2584" stop-color="#70ff00"/><stop offset="0.2734" stop-color="#bbff00"/><stop offset="0.3202" stop-color="#eeed00"/><stop offset="0.382" stop-color="#f5e000"/><stop offset="0.4607" stop-color="#ebef00"/><stop offset="0.4981" stop-color="#d2f700"/><stop offset="0.5262" stop-color="#b6ff00"/><stop offset="0.5993" stop-color="#00ff00"/><stop offset="0.6386" stop-color="#00be00"/><stop offset="0.6667" stop-color="#009900"/><stop offset="0.6929" stop-color="#00a352"/><stop offset="0.7041" stop-color="#00aa88"/><stop offset="0.721" stop-color="#00a8b1"/><stop offset="0.7322" stop-color="#0099dd"/><stop offset="0.7434" stop-color="#0088dd"/><stop offset="0.7453" stop-color="#00aa99"/><stop offset="0.7472" stop-color="#00a352"/><stop offset="0.7491" stop-color="#00a352"/><stop offset="0.7509" stop-color="#009dd1"/><stop offset="0.7528" stop-color="#007cdd"/><stop offset="0.7547" stop-color="#0000dd"/><stop offset="0.7566" stop-color="#0000dd"/><stop offset="0.7584" stop-color="#0062dd"/><stop offset="0.7603" stop-color="#0095dd"/><stop offset="0.7622" stop-color="#00a3be"/><stop offset="0.7809" stop-color="#00a3be"/><stop offset="0.7828" stop-color="#0096dd"/><stop offset="0.7846" stop-color="#00aa88"/><stop offset="0.7865" stop-color="#00aa88"/><stop offset="0.7884" stop-color="#00aaaa"/><stop offset="0.7903" stop-color="#004cdd"/><stop offset="0.7921" stop-color="#0007dd"/><stop offset="0.794" stop-color="#0000dd"/><stop offset="0.7959" stop-color="#003add"/><stop offset="0.7978" stop-color="#003ddd"/><stop offset="0.7996" stop-color="#00aa96"/><stop offset="0.8034" stop-color="#00aa96"/><stop offset="0.8052" stop-color="#0078dd"/><stop offset="0.8071" stop-color="#0025dd"/><stop offset="0.809" stop-color="#0000dd"/><stop offset="0.8109" stop-color="#0000dd"/><stop offset="0.8127" stop-color="#0015dd"/><stop offset="0.8146" stop-color="#001bdd"/><stop offset="0.8165" stop-color="#0089dd"/><stop offset="0.8184" stop-color="#00a0c9"/><stop offset="0.8202" stop-color="#00a0c9"/><stop offset="0.8221" stop-color="#000bdd"/><stop offset="0.8296" stop-color="#0000db"/><stop offset="0.8464" stop-color="#0000c9"/><stop offset="0.8539" stop-color="#0000aa"/><stop offset="0.8614" stop-color="#880099"/><stop offset="0.9082" stop-color="#7c008d"/><stop offset="0.9176" stop-color="#770088"/><stop offset="0.9326" stop-color="#3c0044"/><stop offset="0.9532" stop-color="#110014"/><stop offset="0.9719" stop-color="#000000"/><stop offset="1" stop-color="#000000"/></linearGradient><linearGradient id="g1_0" gradientUnits="userSpaceOnUse" x1="328" x2="595" y1="0" y2="0"><stop offset="0" stop-color="#00ff00"/><stop offset="0.001873" stop-color="#00ff00"/><stop offset="0.003745" stop-color="#0099dd"/><stop offset="0.005618" stop-color="#300036"/><stop offset="0.161" stop-color="#300036"/><stop offset="0.1685" stop-color="#470052"/><stop offset="0.1742" stop-color="#770088"/><stop offset="0.1929" stop-color="#880099"/><stop offset="0.1948" stop-color="#3300a4"/><stop offset="0.1966" stop-color="#0000b0"/><stop offset="0.2022" stop-color="#0000dd"/><stop offset="0.2079" stop-color="#0063dd"/><stop offset="0.2097" stop-color="#007fdd"/><stop offset="0.2116" stop-color="#0093dd"/><stop offset="0.2135" stop-color="#00a0c9"/><stop offset="0.2154" stop-color="#00a9ad"/><stop offset="0.2191" stop-color="#00aa88"/><stop offset="0.221" stop-color="#00a13f"/><stop offset="0.2228" stop-color="#009b00"/><stop offset="0.2247" stop-color="#00ad00"/><stop offset="0.2322" stop-color="#00dd00"/><stop offset="0.2434" stop-color="#00ff00"/><stop offset="0.2584" stop-color="#70ff00"/><stop offset="0.2734" stop-color="#bbff00"/><stop offset="0.3202" stop-color="#efec00"/><stop offset="0.3408" stop-color="#fbd500"/><stop offset="0.3727" stop-color="#fdcf00"/><stop offset="0.4607" stop-color="#fcd200"/><stop offset="0.5206" stop-color="#eaef00"/><stop offset="0.5581" stop-color="#bbff00"/><stop offset="0.603" stop-color="#00ff00"/><stop offset="0.6348" stop-color="#00d300"/><stop offset="0.661" stop-color="#00a900"/><stop offset="0.6742" stop-color="#009902"/><stop offset="0.6985" stop-color="#00a76d"/><stop offset="0.7041" stop-color="#00aa88"/><stop offset="0.721" stop-color="#00a8b1"/><stop offset="0.7322" stop-color="#0099dd"/><stop offset="0.7397" stop-color="#008ddd"/><stop offset="0.7416" stop-color="#00a87b"/><stop offset="0.7434" stop-color="#00a700"/><stop offset="0.7472" stop-color="#00a700"/><stop offset="0.7491" stop-color="#009e29"/><stop offset="0.7509" stop-color="#00aa88"/><stop offset="0.7528" stop-color="#0094dd"/><stop offset="0.7547" stop-color="#008bdd"/><stop offset="0.7566" stop-color="#0094dd"/><stop offset="0.7584" stop-color="#00aa88"/><stop offset="0.7622" stop-color="#00aa88"/><stop offset="0.764" stop-color="#009903"/><stop offset="0.7659" stop-color="#00a700"/><stop offset="0.7697" stop-color="#00a700"/><stop offset="0.7715" stop-color="#009903"/><stop offset="0.7734" stop-color="#00aa88"/><stop offset="0.7809" stop-color="#00aa88"/><stop offset="0.7828" stop-color="#009903"/><stop offset="0.7846" stop-color="#00a700"/><stop offset="0.7884" stop-color="#00a700"/><stop offset="0.7903" stop-color="#009903"/><stop offset="0.7921" stop-color="#00aa88"/><stop offset="0.7978" stop-color="#00aa88"/><stop offset="0.7996" stop-color="#009903"/><stop offset="0.8015" stop-color="#00a700"/><stop offset="0.8034" stop-color="#00a700"/><stop offset="0.8052" stop-color="#009903"/><stop offset="0.8071" stop-color="#00aa88"/><stop offset="0.8258" stop-color="#00aa88"/><stop offset="0.8277" stop-color="#0099dd"/><stop offset="0.8296" stop-color="#0000dc"/><stop offset="0.8783" stop-color="#0000c5"/><stop offset="0.8914" stop-color="#0000aa"/><stop offset="0.897" stop-color="#880099"/><stop offset="0.9288" stop-color="#770088"/><stop offset="0.9457" stop-color="#36003e"/><stop offset="0.9607" stop-color="#110013"/><stop offset="0.9757" stop-color="#000000"/><stop offset="1" stop-color="#000000"/></linearGradient><linearGradient id="g1_1" gradientUnits="userSpaceOnUse" x1="328" x2="595" y1="0" y2="0"><stop offset="0" stop-color="#00ff00"/><stop offset="0.001873" stop-color="#00ff00"/><stop offset="0.003745" stop-color="#0099dd"/><stop offset="0.005618" stop-color="#300036"/><stop offset="0.161" stop-color="#300036"/><stop offset="0.1685" stop-color="#470052"/><stop offset="0.1742" stop-color="#770088"/><stop offset="0.1929" stop-color="#880099"/><stop offset="0.1948" stop-color="#3300a4"/><stop offset="0.1966" stop-color="#0000b0"/><stop offset="0.2022" stop-color="#0000dd"/><stop offset="0.2079" stop-color="#0063dd"/><stop offset="0.2097" stop-color="#007fdd"/><stop offset="0.2116" stop-color="#0093dd"/><stop offset="0.2135" stop-color="#00a0c9"/><stop offset="0.2154" stop-color="#00a9ad"/><stop offset="0.2191" stop-color="#00aa88"/><stop offset="0.221" stop-color="#00a13f"/><stop offset="0.2228" stop-color="#009b00"/><stop offset="0.2247" stop-color="#00ad00"/><stop offset="0.2322" stop-color="#00dd00"/><stop offset="0.2434" stop-color="#00ff00"/><stop offset="0.2584" stop-color="#70ff00"/><stop offset="0.2734" stop-color="#bbff00"/><stop offset="0.3202" stop-color="#efec00"/><stop offset="0.3408" stop-color="#fbd500"/><stop offset="0.3727" stop-color="#fdcf00"/><stop offset="0.4607" stop-color="#fcd200"/><stop offset="0.5206" stop-color="#eaef00"/><stop offset="0.5581" stop-color="#bbff00"/><stop offset="0.603" stop-color="#00ff00"/><stop offset="0.6348" stop-color="#00d300"/><stop offset="0.661" stop-color="#00a900"/><stop offset="0.6742" stop-color="#009902"/><stop offset="0.6985" stop-color="#00a76d"/><stop offset="0.7041" stop-color="#00aa88"/><stop offset="0.721" stop-color="#00a8b1"/><stop offset="0.7322" stop-color="#0099dd"/><stop offset="0.7397" stop-color="#008ddd"/><stop offset="0.7416" stop-color="#00a87b"/><stop offset="0.7434" stop-color="#00a700"/><stop offset="0.7472" stop-color="#00a700"/><stop offset="0.7491" stop-color="#009e29"/><stop offset="0.7509" stop-color="#00aa88"/><stop offset="0.7528" stop-color="#0094dd"/><stop offset="0.7547" stop-color="#008bdd"/><stop offset="0.7566" stop-color="#0094dd"/><stop offset="0.7584" stop-color="#00aa88"/><stop offset="0.7622" stop-color="#00aa88"/><stop offset="0.764" stop-color="#009903"/><stop offset="0.7659" stop-color="#00a700"/><stop offset="0.7697" stop-color="#00a700"/><stop offset="0.7715" stop-color="#009903"/><stop offset="0.7734" stop-color="#00aa88"/><stop offset="0.7809" stop-color="#00aa88"/><stop offset="0.7828" stop-color="#009903"/><stop offset="0.7846" stop-color="#00a700"/><stop offset="0.7884" stop-color="#00a700"/><stop offset="0.7903" stop-color="#009903"/><stop offset="0.7921" stop-color="#00aa88"/><stop offset="0.7978" stop-color="#00aa88"/><stop offset="0.7996" stop-color="#009903"/><stop offset="0.8015" stop-color="#00a700"/><stop offset="0.8034" stop-color="#00a700"/><stop offset="0.8052" stop-color="#009903"/><stop offset="0.8071" stop-color="#00aa88"/><stop offset="0.8258" stop-color="#00aa88"/><stop offset="0.8277" stop-color="#0099dd"/><stop offset="0.8296" stop-color="#0000dc"/><stop offset="0.8783" stop-color="#0000c5"/><stop offset="0.8914" stop-color="#0000aa"/><stop offset="0.897" stop-color="#880099"/><stop offset="0.9288" stop-color="#770088"/><stop offset="0.9457" stop-color="#36003e"/><stop offset="0.9607" stop-color="#110013"/><stop offset="0.9757" stop-color="#000000"/><stop offset="1" stop-color="#000000"/></linearGradient><linearGradient id="g1_2" gradientUnits="userSpaceOnUse" x1="328" x2="595" y1="0" y2="0"><stop offset="0" stop-color="#00ff00"/><stop offset="0.001873" stop-color="#00ff00"/><stop offset="0.003745" stop-color="#0099dd"/><stop offset="0.005618" stop-color="#3c0044"/><stop offset="0.1854" stop-color="#3c0044"/><stop offset="0.1891" stop-color="#470052"/><stop offset="0.3127" stop-color="#470052"/><stop offset="0.3165" stop-color="#580065"/><stop offset="0.4682" stop-color="#580065"/><stop offset="0.4738" stop-color="#51005c"/><stop offset="0.5487" stop-color="#53005f"/><stop offset="0.6292" stop-color="#560062"/><stop offset="0.633" stop-color="#4a0054"/><stop offset="0.8146" stop-color="#4a0054"/><stop offset="0.8184" stop-color="#400049"/><stop offset="0.912" stop-color="#3c0045"/><stop offset="0.9663" stop-color="#000000"/><stop offset="1" stop-color="#000000"/></linearGradient><linearGradient id="g1_3" gradientUnits="userSpaceOnUse" x1="328" x2="595" y1="0" y2="0"><stop offset="0" stop-color="#00ff00"/><stop offset="0.001873" stop-color="#00ff00"/><stop offset="0.003745" stop-color="#0099dd"/><stop offset="0.005618" stop-color="#300036"/><stop offset="0.1816" stop-color="#300036"/><stop offset="0.191" stop-color="#43004c"/><stop offset="0.1985" stop-color="#5f006d"/><stop offset="0.2022" stop-color="#770088"/><stop offset="0.2266" stop-color="#880099"/><stop offset="0.2285" stop-color="#5b009f"/><stop offset="0.2303" stop-color="#2200a6"/><stop offset="0.2322" stop-color="#0000af"/><stop offset="0.2416" stop-color="#0000da"/><stop offset="0.2566" stop-color="#0078dd"/><stop offset="0.2809" stop-color="#009adb"/><stop offset="0.3202" stop-color="#00aaa5"/><stop offset="0.3539" stop-color="#00aa87"/><stop offset="0.3858" stop-color="#009c1b"/><stop offset="0.397" stop-color="#009a00"/><stop offset="0.4157" stop-color="#00ac00"/><stop offset="0.4326" stop-color="#00b200"/><stop offset="0.4476" stop-color="#00c300"/><stop offset="0.4644" stop-color="#00bc00"/><stop offset="0.4831" stop-color="#00c700"/><stop offset="0.5" stop-color="#00c100"/><stop offset="0.5169" stop-color="#00c800"/><stop offset="0.5337" stop-color="#00bd00"/><stop offset="0.5506" stop-color="#00c400"/><stop offset="0.5618" stop-color="#00b800"/><stop offset="0.5749" stop-color="#00a800"/><stop offset="0.5861" stop-color="#009b00"/><stop offset="0.588" stop-color="#009a06"/><stop offset="0.5974" stop-color="#00a350"/><stop offset="0.6049" stop-color="#00a97c"/><stop offset="0.6067" stop-color="#00aa88"/><stop offset="0.6292" stop-color="#00a7b4"/><stop offset="0.6479" stop-color="#009ad9"/><stop offset="0.6629" stop-color="#008edd"/><stop offset="0.6854" stop-color="#0078dd"/><stop offset="0.7116" stop-color="#000edd"/><stop offset="0.7247" stop-color="#0000dc"/><stop offset="0.7397" stop-color="#0000d4"/><stop offset="0.7416" stop-color="#00aaa0"/><stop offset="0.7434" stop-color="#009900"/><stop offset="0.7472" stop-color="#009900"/><stop offset="0.7491" stop-color="#00a76d"/><stop offset="0.7509" stop-color="#00aa9c"/><stop offset="0.7528" stop-color="#0028dd"/><stop offset="0.7547" stop-color="#0000dd"/><stop offset="0.7566" stop-color="#0028dd"/><stop offset="0.7584" stop-color="#00aa9c"/><stop offset="0.7622" stop-color="#00aa9c"/><stop offset="0.764" stop-color="#00a141"/><stop offset="0.7659" stop-color="#009900"/><stop offset="0.7697" stop-color="#009900"/><stop offset="0.7715" stop-color="#00a141"/><stop offset="0.7734" stop-color="#00aa9c"/><stop offset="0.7809" stop-color="#00aa9c"/><stop offset="0.7828" stop-color="#00a141"/><stop offset="0.7846" stop-color="#009900"/><stop offset="0.7884" stop-color="#009900"/><stop offset="0.7903" stop-color="#00a141"/><stop offset="0.7921" stop-color="#00aa9c"/><stop offset="0.7978" stop-color="#00aa9c"/><stop offset="0.7996" stop-color="#00a141"/><stop offset="0.8015" stop-color="#009900"/><stop offset="0.8034" stop-color="#009900"/><stop offset="0.8052" stop-color="#00a141"/><stop offset="0.8071" stop-color="#00aa9c"/><stop offset="0.8258" stop-color="#00aa9c"/><stop offset="0.8277" stop-color="#007cdd"/><stop offset="0.8296" stop-color="#880099"/><stop offset="0.9026" stop-color="#7c008d"/><stop offset="0.912" stop-color="#760086"/><stop offset="0.9251" stop-color="#470052"/><stop offset="0.9345" stop-color="#2d0033"/><stop offset="0.9569" stop-color="#0d000f"/><stop offset="0.9719" stop-color="#000000"/><stop offset="1" stop-color="#000000"/></linearGradient><linearGradient id="g1_4" gradientUnits="userSpaceOnUse" x1="328" x2="595" y1="0" y2="0"><stop offset="0" stop-color="#00ff00"/><stop offset="0.001873" stop-color="#00ff00"/><stop offset="0.003745" stop-color="#0099dd"/><stop offset="0.005618" stop-color="#300036"/><stop offset="0.1816" stop-color="#300036"/><stop offset="0.191" stop-color="#43004c"/><stop offset="0.1985" stop-color="#5f006d"/><stop offset="0.2022" stop-color="#770088"/><stop offset="0.2266" stop-color="#880099"/><stop offset="0.2322" stop-color="#0000aa"/><stop offset="0.2434" stop-color="#0000dd"/><stop offset="0.2584" stop-color="#0077dd"/><stop offset="0.2865" stop-color="#009ada"/><stop offset="0.3277" stop-color="#00aaa5"/><stop offset="0.3633" stop-color="#00aa88"/><stop offset="0.3876" stop-color="#00a039"/><stop offset="0.3989" stop-color="#009c18"/><stop offset="0.4045" stop-color="#009a00"/><stop offset="0.4195" stop-color="#00a300"/><stop offset="0.4326" stop-color="#00a800"/><stop offset="0.4476" stop-color="#00b900"/><stop offset="0.4663" stop-color="#00b300"/><stop offset="0.4831" stop-color="#00bd00"/><stop offset="0.5" stop-color="#00b700"/><stop offset="0.5169" stop-color="#00be00"/><stop offset="0.5337" stop-color="#00b300"/><stop offset="0.5524" stop-color="#00b900"/><stop offset="0.5637" stop-color="#00ab00"/><stop offset="0.5824" stop-color="#009903"/><stop offset="0.5899" stop-color="#00a039"/><stop offset="0.5974" stop-color="#00a771"/><stop offset="0.6011" stop-color="#00aa86"/><stop offset="0.6236" stop-color="#00a7b2"/><stop offset="0.6442" stop-color="#0099dd"/><stop offset="0.6816" stop-color="#0077dd"/><stop offset="0.7116" stop-color="#0000dd"/><stop offset="0.7397" stop-color="#0000cf"/><stop offset="0.7416" stop-color="#00aaa1"/><stop offset="0.7434" stop-color="#009900"/><stop offset="0.7472" stop-color="#009900"/><stop offset="0.7491" stop-color="#00a76d"/><stop offset="0.7509" stop-color="#00aa9c"/><stop offset="0.7528" stop-color="#0028dd"/><stop offset="0.7547" stop-color="#0000dd"/><stop offset="0.7566" stop-color="#0028dd"/><stop offset="0.7584" stop-color="#00aa9c"/><stop offset="0.7622" stop-color="#00aa9c"/><stop offset="0.764" stop-color="#00a141"/><stop offset="0.7659" stop-color="#009900"/><stop offset="0.7697" stop-color="#009900"/><stop offset="0.7715" stop-color="#00a141"/><stop offset="0.7734" stop-color="#00aa9c"/><stop offset="0.7809" stop-color="#00aa9c"/><stop offset="0.7828" stop-color="#00a141"/><stop offset="0.7846" stop-color="#009900"/><stop offset="0.7884" stop-color="#009900"/><stop offset="0.7903" stop-color="#00a141"/><stop offset="0.7921" stop-color="#00aa9c"/><stop offset="0.7978" stop-color="#00aa9c"/><stop offset="0.7996" stop-color="#00a141"/><stop offset="0.8015" stop-color="#009900"/><stop offset="0.8034" stop-color="#009900"/><stop offset="0.8052" stop-color="#00a141"/><stop offset="0.8071" stop-color="#00aa9c"/><stop offset="0.8258" stop-color="#00aa9c"/><stop offset="0.8277" stop-color="#007add"/><stop offset="0.8296" stop-color="#880099"/><stop offset="0.9026" stop-color="#7c008d"/><stop offset="0.912" stop-color="#760086"/><stop offset="0.9251" stop-color="#470052"/><stop offset="0.9345" stop-color="#2d0033"/><stop offset="0.9569" stop-color="#0d000f"/><stop offset="0.9719" stop-color="#000000"/><stop offset="1" stop-color="#000000"/></linearGradient><linearGradient id="g1_5" gradientUnits="userSpaceOnUse" x1="328" x2="595" y1="0" y2="0"><stop offset="0" stop-color="#00ff00"/><stop offset="0.001873" stop-color="#00ff00"/><stop offset="0.003745" stop-color="#0099dd"/><stop offset="0.005618" stop-color="#300036"/><stop offset="0.1816" stop-color="#300036"/><stop offset="0.191" stop-color="#43004c"/><stop offset="0.1985" stop-color="#5f006d"/><stop offset="0.2022" stop-color="#770088"/><stop offset="0.2266" stop-color="#880099"/><stop offset="0.2322" stop-color="#0400a9"/><stop offset="0.2378" stop-color="#0000c2"/><stop offset="0.2434" stop-color="#0000db"/><stop offset="0.2472" stop-color="#0019dd"/><stop offset="0.2584" stop-color="#0071dd"/><stop offset="0.264" stop-color="#007ddd"/><stop offset="0.2884" stop-color="#009adb"/><stop offset="0.3315" stop-color="#00aaa5"/><stop offset="0.367" stop-color="#00aa87"/><stop offset="0.3876" stop-color="#00a245"/><stop offset="0.3989" stop-color="#009d24"/><stop offset="0.4064" stop-color="#009901"/><stop offset="0.4232" stop-color="#00a000"/><stop offset="0.4363" stop-color="#00aa00"/><stop offset="0.4476" stop-color="#00b600"/><stop offset="0.4663" stop-color="#00af00"/><stop offset="0.4831" stop-color="#00b900"/><stop offset="0.5" stop-color="#00b300"/><stop offset="0.5169" stop-color="#00ba00"/><stop offset="0.5337" stop-color="#00af00"/><stop offset="0.5524" stop-color="#00b600"/><stop offset="0.5637" stop-color="#00a700"/><stop offset="0.5787" stop-color="#009900"/><stop offset="0.5843" stop-color="#009c1b"/><stop offset="0.5974" stop-color="#00a97c"/><stop offset="0.5993" stop-color="#00aa87"/><stop offset="0.6217" stop-color="#00a8b1"/><stop offset="0.6442" stop-color="#0097dd"/><stop offset="0.6798" stop-color="#0077dd"/><stop offset="0.7097" stop-color="#0003dd"/><stop offset="0.7397" stop-color="#0000cd"/><stop offset="0.7416" stop-color="#00aaa1"/><stop offset="0.7434" stop-color="#009900"/><stop offset="0.7472" stop-color="#009900"/><stop offset="0.7491" stop-color="#00a76d"/><stop offset="0.7509" stop-color="#00aa9c"/><stop offset="0.7528" stop-color="#0028dd"/><stop offset="0.7547" stop-color="#0000dd"/><stop offset="0.7566" stop-color="#0028dd"/><stop offset="0.7584" stop-color="#00aa9c"/><stop offset="0.7622" stop-color="#00aa9c"/><stop offset="0.764" stop-color="#00a141"/><stop offset="0.7659" stop-color="#009900"/><stop offset="0.7697" stop-color="#009900"/><stop offset="0.7715" stop-color="#00a141"/><stop offset="0.7734" stop-color="#00aa9c"/><stop offset="0.7809" stop-color="#00aa9c"/><stop offset="0.7828" stop-color="#00a141"/><stop offset="0.7846" stop-color="#009900"/><stop offset="0.7884" stop-color="#009900"/><stop offset="0.7903" stop-color="#00a141"/><stop offset="0.7921" stop-color="#00aa9c"/><stop offset="0.7978" stop-color="#00aa9c"/><stop offset="0.7996" stop-color="#00a141"/><stop offset="0.8015" stop-color="#009900"/><stop offset="0.8034" stop-color="#009900"/><stop offset="0.8052" stop-color="#00a141"/><stop offset="0.8071" stop-color="#00aa9c"/><stop offset="0.8258" stop-color="#00aa9c"/><stop offset="0.8277" stop-color="#007add"/><stop offset="0.8296" stop-color="#880099"/><stop offset="0.9026" stop-color="#7c008d"/><stop offset="0.912" stop-color="#760086"/><stop offset="0.9251" stop-color="#470052"/><stop offset="0.9345" stop-color="#2d0033"/><stop offset="0.9569" stop-color="#0d000f"/><stop offset="0.9719" stop-color="#000000"/><stop offset="1" stop-color="#000000"/></linearGradient><linearGradient id="g1_6" gradientUnits="userSpaceOnUse" x1="328" x2="595" y1="0" y2="0"><stop offset="0" stop-color="#00ff00"/><stop offset="0.001873" stop-color="#00ff00"/><stop offset="0.003745" stop-color="#0099dd"/><stop offset="0.005618" stop-color="#300036"/><stop offset="0.1816" stop-color="#300036"/><stop offset="0.191" stop-color="#43004c"/><stop offset="0.1985" stop-color="#5f006d"/><stop offset="0.2022" stop-color="#770088"/><stop offset="0.2266" stop-color="#880099"/><stop offset="0.2285" stop-color="#5b009f"/><stop offset="0.2303" stop-color="#3600a3"/><stop offset="0.2322" stop-color="#0a00a9"/><stop offset="0.2341" stop-color="#0000ae"/><stop offset="0.2453" stop-color="#0003dd"/><stop offset="0.2584" stop-color="#0068dd"/><stop offset="0.2622" stop-color="#0077dd"/><stop offset="0.2921" stop-color="#009adb"/><stop offset="0.3352" stop-color="#00aaa5"/><stop offset="0.3727" stop-color="#00aa85"/><stop offset="0.3876" stop-color="#00a457"/><stop offset="0.3989" stop-color="#00a036"/><stop offset="0.4101" stop-color="#009a05"/><stop offset="0.4139" stop-color="#009a00"/><stop offset="0.4326" stop-color="#00a000"/><stop offset="0.4476" stop-color="#00b000"/><stop offset="0.4663" stop-color="#00ab00"/><stop offset="0.4831" stop-color="#00b400"/><stop offset="0.5" stop-color="#00ae00"/><stop offset="0.5169" stop-color="#00b500"/><stop offset="0.5337" stop-color="#00aa00"/><stop offset="0.5524" stop-color="#00b100"/><stop offset="0.5637" stop-color="#00a200"/><stop offset="0.5712" stop-color="#009900"/><stop offset="0.5805" stop-color="#009c19"/><stop offset="0.5861" stop-color="#00a039"/><stop offset="0.5955" stop-color="#00a981"/><stop offset="0.5993" stop-color="#00aa8c"/><stop offset="0.618" stop-color="#00a9ad"/><stop offset="0.6404" stop-color="#0099dd"/><stop offset="0.6779" stop-color="#0074dd"/><stop offset="0.7079" stop-color="#0003dd"/><stop offset="0.7397" stop-color="#0000ca"/><stop offset="0.7416" stop-color="#00aaa1"/><stop offset="0.7434" stop-color="#009900"/><stop offset="0.7472" stop-color="#009900"/><stop offset="0.7491" stop-color="#00a76d"/><stop offset="0.7509" stop-color="#00aa9c"/><stop offset="0.7528" stop-color="#0028dd"/><stop offset="0.7547" stop-color="#0000dd"/><stop offset="0.7566" stop-color="#0028dd"/><stop offset="0.7584" stop-color="#00aa9c"/><stop offset="0.7622" stop-color="#00aa9c"/><stop offset="0.764" stop-color="#00a141"/><stop offset="0.7659" stop-color="#009900"/><stop offset="0.7697" stop-color="#009900"/><stop offset="0.7715" stop-color="#00a141"/><stop offset="0.7734" stop-color="#00aa9c"/><stop offset="0.7809" stop-color="#00aa9c"/><stop offset="0.7828" stop-color="#00a141"/><stop offset="0.7846" stop-color="#009900"/><stop offset="0.7884" stop-color="#009900"/><stop offset="0.7903" stop-color="#00a141"/><stop offset="0.7921" stop-color="#00aa9c"/><stop offset="0.7978" stop-color="#00aa9c"/><stop offset="0.7996" stop-color="#00a141"/><stop offset="0.8015" stop-color="#009900"/><stop offset="0.8034" stop-color="#009900"/><stop offset="0.8052" stop-color="#00a141"/><stop offset="0.8071" stop-color="#00aa9c"/><stop offset="0.8258" stop-color="#00aa9c"/><stop offset="0.8277" stop-color="#0079dd"/><stop offset="0.8296" stop-color="#880099"/><stop offset="0.9026" stop-color="#7c008d"/><stop offset="0.912" stop-color="#760086"/><stop offset="0.9251" stop-color="#470052"/><stop offset="0.9345" stop-color="#2d0033"/><stop offset="0.9569" stop-color="#0d000f"/><stop offset="0.9719" stop-color="#000000"/><stop offset="1" stop-color="#000000"/></linearGradient><linearGradient id="g1_7" gradientUnits="userSpaceOnUse" x1="328" x2="595" y1="0" y2="0"><stop offset="0" stop-color="#00ff00"/><stop offset="0.001873" stop-color="#00ff00"/><stop offset="0.003745" stop-color="#0099dd"/><stop offset="0.005618" stop-color="#300036"/><stop offset="0.1816" stop-color="#300036"/><stop offset="0.191" stop-color="#43004c"/><stop offset="0.1985" stop-color="#5f006d"/><stop offset="0.2022" stop-color="#770088"/><stop offset="0.2266" stop-color="#880099"/><stop offset="0.2322" stop-color="#0600a9"/><stop offset="0.2341" stop-color="#0000b0"/><stop offset="0.2434" stop-color="#0000da"/><stop offset="0.2453" stop-color="#0008dd"/><stop offset="0.2584" stop-color="#006edd"/><stop offset="0.2622" stop-color="#0079dd"/><stop offset="0.2903" stop-color="#009ada"/><stop offset="0.3315" stop-color="#00aaa6"/><stop offset="0.3689" stop-color="#00aa86"/><stop offset="0.3876" stop-color="#00a24b"/><stop offset="0.3989" stop-color="#009e2a"/><stop offset="0.4082" stop-color="#009900"/><stop offset="0.4326" stop-color="#00a300"/><stop offset="0.4476" stop-color="#00b400"/><stop offset="0.4663" stop-color="#00ae00"/><stop offset="0.4831" stop-color="#00b800"/><stop offset="0.5" stop-color="#00b200"/><stop offset="0.5169" stop-color="#00b800"/><stop offset="0.5337" stop-color="#00ae00"/><stop offset="0.5524" stop-color="#00b400"/><stop offset="0.5637" stop-color="#00a600"/><stop offset="0.5768" stop-color="#009901"/><stop offset="0.5824" stop-color="#009c16"/><stop offset="0.5899" stop-color="#00a24b"/><stop offset="0.5974" stop-color="#00a982"/><stop offset="0.6011" stop-color="#00aa8c"/><stop offset="0.6217" stop-color="#00a7b3"/><stop offset="0.6423" stop-color="#0099dd"/><stop offset="0.6798" stop-color="#0074dd"/><stop offset="0.7097" stop-color="#0000dd"/><stop offset="0.7397" stop-color="#0000cc"/><stop offset="0.7416" stop-color="#00aaa1"/><stop offset="0.7434" stop-color="#009900"/><stop offset="0.7472" stop-color="#009900"/><stop offset="0.7491" stop-color="#00a76d"/><stop offset="0.7509" stop-color="#00aa9c"/><stop offset="0.7528" stop-color="#0028dd"/><stop offset="0.7547" stop-color="#0000dd"/><stop offset="0.7566" stop-color="#0028dd"/><stop offset="0.7584" stop-color="#00aa9c"/><stop offset="0.7622" stop-color="#00aa9c"/><stop offset="0.764" stop-color="#00a141"/><stop offset="0.7659" stop-color="#009900"/><stop offset="0.7697" stop-color="#009900"/><stop offset="0.7715" stop-color="#00a141"/><stop offset="0.7734" stop-color="#00aa9c"/><stop offset="0.7809" stop-color="#00aa9c"/><stop offset="0.7828" stop-color="#00a141"/><stop offset="0.7846" stop-color="#009900"/><stop offset="0.7884" stop-color="#009900"/><stop offset="0.7903" stop-color="#00a141"/><stop offset="0.7921" stop-color="#00aa9c"/><stop offset="0.7978" stop-color="#00aa9c"/><stop offset="0.7996" stop-color="#00a141"/><stop offset="0.8015" stop-color="#009900"/><stop offset="0.8034" stop-color="#009900"/><stop offset="0.8052" stop-color="#00a141"/><stop offset="0.8071" stop-color="#00aa9c"/><stop offset="0.8258" stop-color="#00aa9c"/><stop offset="0.8277" stop-color="#007add"/><stop offset="0.8296" stop-color="#880099"/><stop offset="0.9026" stop-color="#7c008d"/><stop offset="0.912" stop-color="#760086"/><stop offset="0.9251" stop-color="#470052"/><stop offset="0.9345" stop-color="#2d0033"/><stop offset="0.9569" stop-color="#0d000f"/><stop offset="0.9719" stop-color="#000000"/><stop offset="1" stop-color="#000000"/></linearGradient><linearGradient id="g1_8" gradientUnits="userSpaceOnUse" x1="328" x2="595" y1="0" y2="0"><stop offset="0" stop-color="#00ff00"/><stop offset="0.001873" stop-color="#00ff00"/><stop offset="0.003745" stop-color="#0099dd"/><stop offset="0.005618" stop-color="#300036"/><stop offset="0.1816" stop-color="#300036"/><stop offset="0.191" stop-color="#43004c"/><stop offset="0.1985" stop-color="#5f006d"/><stop offset="0.2022" stop-color="#770088"/><stop offset="0.2266" stop-color="#880099"/><stop offset="0.2322" stop-color="#0400a9"/><stop offset="0.2378" stop-color="#0000c2"/><stop offset="0.2434" stop-color="#0000db"/><stop offset="0.2472" stop-color="#0019dd"/><stop offset="0.2584" stop-color="#0071dd"/><stop offset="0.264" stop-color="#007ddd"/><stop offset="0.2884" stop-color="#009adb"/><stop offset="0.3315" stop-color="#00aaa5"/><stop offset="0.367" stop-color="#00aa87"/><stop offset="0.3876" stop-color="#00a245"/><stop offset="0.3989" stop-color="#009d24"/><stop offset="0.4064" stop-color="#009901"/><stop offset="0.4232" stop-color="#00a000"/><stop offset="0.4363" stop-color="#00aa00"/><stop offset="0.4476" stop-color="#00b600"/><stop offset="0.4663" stop-color="#00af00"/><stop offset="0.4831" stop-color="#00b900"/><stop offset="0.5" stop-color="#00b300"/><stop offset="0.5169" stop-color="#00ba00"/><stop offset="0.5337" stop-color="#00af00"/><stop offset="0.5524" stop-color="#00b600"/><stop offset="0.5637" stop-color="#00a700"/><stop offset="0.5787" stop-color="#009900"/><stop offset="0.5843" stop-color="#009c1b"/><stop offset="0.5974" stop-color="#00a97c"/><stop offset="0.5993" stop-color="#00aa87"/><stop offset="0.6217" stop-color="#00a8b1"/><stop offset="0.6442" stop-color="#0097dd"/><stop offset="0.6798" stop-color="#0077dd"/><stop offset="0.7097" stop-color="#0003dd"/><stop offset="0.7397" stop-color="#0000cd"/><stop offset="0.7416" stop-color="#00aaa1"/><stop offset="0.7434" stop-color="#009900"/><stop offset="0.7472" stop-color="#009900"/><stop offset="0.7491" stop-color="#00a76d"/><stop offset="0.7509" stop-color="#00aa9c"/><stop offset="0.7528" stop-color="#0028dd"/><stop offset="0.7547" stop-color="#0000dd"/><stop offset="0.7566" stop-color="#0028dd"/><stop offset="0.7584" stop-color="#00aa9c"/><stop offset="0.7622" stop-color="#00aa9c"/><stop offset="0.764" stop-color="#00a141"/><stop offset="0.7659" stop-color="#009900"/><stop offset="0.7697" stop-color="#009900"/><stop offset="0.7715" stop-color="#00a141"/><stop offset="0.7734" stop-color="#00aa9c"/><stop offset="0.7809" stop-color="#00aa9c"/><stop offset="0.7828" stop-color="#00a141"/><stop offset="0.7846" stop-color="#009900"/><stop offset="0.7884" stop-color="#009900"/><stop offset="0.7903" stop-color="#00a141"/><stop offset="0.7921" stop-color="#00aa9c"/><stop offset="0.7978" stop-color="#00aa9c"/><stop offset="0.7996" stop-color="#00a141"/><stop offset="0.8015" stop-color="#009900"/><stop offset="0.8034" stop-color="#009900"/><stop offset="0.8052" stop-color="#00a141"/><stop offset="0.8071" stop-color="#00aa9c"/><stop offset="0.8258" stop-color="#00aa9c"/><stop offset="0.8277" stop-color="#007add"/><stop offset="0.8296" stop-color="#880099"/><stop offset="0.9026" stop-color="#7c008d"/><stop offset="0.912" stop-color="#760086"/><stop offset="0.9251" stop-color="#470052"/><stop offset="0.9345" stop-color="#2d0033"/><stop offset="0.9569" stop-color="#0d000f"/><stop offset="0.9719" stop-color="#000000"/><stop offset="1" stop-color="#000000"/></linearGradient><linearGradient id="g1_9" gradientUnits="userSpaceOnUse" x1="328" x2="595" y1="0" y2="0"><stop offset="0" stop-color="#00ff00"/><stop offset="0.001873" stop-color="#00ff00"/><stop offset="0.003745" stop-color="#0099dd"/><stop offset="0.005618" stop-color="#300036"/><stop offset="0.1816" stop-color="#300036"/><stop offset="0.191" stop-color="#43004c"/><stop offset="0.1985" stop-color="#5f006d"/><stop offset="0.2022" stop-color="#770088"/><stop offset="0.2266" stop-color="#880099"/><stop offset="0.2322" stop-color="#0000aa"/><stop offset="0.2434" stop-color="#0000dd"/><stop offset="0.2584" stop-color="#0077dd"/><stop offset="0.2865" stop-color="#009ada"/><stop offset="0.3277" stop-color="#00aaa5"/><stop offset="0.3633" stop-color="#00aa88"/><stop offset="0.3876" stop-color="#00a039"/><stop offset="0.3989" stop-color="#009c18"/><stop offset="0.4045" stop-color="#009a00"/><stop offset="0.4195" stop-color="#00a300"/><stop offset="0.4326" stop-color="#00a800"/><stop offset="0.4476" stop-color="#00b900"/><stop offset="0.4663" stop-color="#00b300"/><stop offset="0.4831" stop-color="#00bd00"/><stop offset="0.5" stop-color="#00b700"/><stop offset="0.5169" stop-color="#00be00"/><stop offset="0.5337" stop-color="#00b300"/><stop offset="0.5524" stop-color="#00b900"/><stop offset="0.5637" stop-color="#00ab00"/><stop offset="0.5824" stop-color="#009903"/><stop offset="0.5899" stop-color="#00a039"/><stop offset="0.5974" stop-color="#00a771"/><stop offset="0.6011" stop-color="#00aa86"/><stop offset="0.6236" stop-color="#00a7b2"/><stop offset="0.6442" stop-color="#0099dd"/><stop offset="0.6816" stop-color="#0077dd"/><stop offset="0.7116" stop-color="#0000dd"/><stop offset="0.7397" stop-color="#0000cf"/><stop offset="0.7416" stop-color="#00aaa1"/><stop offset="0.7434" stop-color="#009900"/><stop offset="0.7472" stop-color="#009900"/><stop offset="0.7491" stop-color="#00a76d"/><stop offset="0.7509" stop-color="#00aa9c"/><stop offset="0.7528" stop-color="#0028dd"/><stop offset="0.7547" stop-color="#0000dd"/><stop offset="0.7566" stop-color="#0028dd"/><stop offset="0.7584" stop-color="#00aa9c"/><stop offset="0.7622" stop-color="#00aa9c"/><stop offset="0.764" stop-color="#00a141"/><stop offset="0.7659" stop-color="#009900"/><stop offset="0.7697" stop-color="#009900"/><stop offset="0.7715" stop-color="#00a141"/><stop offset="0.7734" stop-color="#00aa9c"/><stop offset="0.7809" stop-color="#00aa9c"/><stop offset="0.7828" stop-color="#00a141"/><stop offset="0.7846" stop-color="#009900"/><stop offset="0.7884" stop-color="#009900"/><stop offset="0.7903" stop-color="#00a141"/><stop offset="0.7921" stop-color="#00aa9c"/><stop offset="0.7978" stop-color="#00aa9c"/><stop offset="0.7996" stop-color="#00a141"/><stop offset="0.8015" stop-color="#009900"/><stop offset="0.8034" stop-color="#009900"/><stop offset="0.8052" stop-color="#00a141"/><stop offset="0.8071" stop-color="#00aa9c"/><stop offset="0.8258" stop-color="#00aa9c"/><stop offset="0.8277" stop-color="#007add"/><stop offset="0.8296" stop-color="#880099"/><stop offset="0.9026" stop-color="#7c008d"/><stop offset="0.912" stop-color="#760086"/><stop offset="0.9251" stop-color="#470052"/><stop offset="0.9345" stop-color="#2d0033"/><stop offset="0.9569" stop-color="#0d000f"/><stop offset="0.9719" stop-color="#000000"/><stop offset="1" stop-color="#000000"/></linearGradient><linearGradient id="g1_10" gradientUnits="userSpaceOnUse" x1="328" x2="595" y1="0" y2="0"><stop offset="0" stop-color="#00ff00"/><stop offset="0.001873" stop-color="#00ff00"/><stop offset="0.003745" stop-color="#0099dd"/><stop offset="0.005618" stop-color="#300036"/><stop offset="0.1816" stop-color="#300036"/><stop offset="0.191" stop-color="#43004c"/><stop offset="0.1985" stop-color="#5f006d"/><stop offset="0.2022" stop-color="#770088"/><stop offset="0.2266" stop-color="#880099"/><stop offset="0.2322" stop-color="#0000aa"/><stop offset="0.2434" stop-color="#0000dd"/><stop offset="0.2584" stop-color="#0077dd"/><stop offset="0.2865" stop-color="#009ada"/><stop offset="0.3277" stop-color="#00aaa5"/><stop offset="0.3633" stop-color="#00aa88"/><stop offset="0.3876" stop-color="#00a039"/><stop offset="0.3989" stop-color="#009c18"/><stop offset="0.4045" stop-color="#009a00"/><stop offset="0.4195" stop-color="#00a300"/><stop offset="0.4326" stop-color="#00a800"/><stop offset="0.4476" stop-color="#00b900"/><stop offset="0.4663" stop-color="#00b300"/><stop offset="0.4831" stop-color="#00bd00"/><stop offset="0.5" stop-color="#00b700"/><stop offset="0.5169" stop-color="#00be00"/><stop offset="0.5337" stop-color="#00b300"/><stop offset="0.5524" stop-color="#00b900"/><stop offset="0.5637" stop-color="#00ab00"/><stop offset="0.5824" stop-color="#009903"/><stop offset="0.5899" stop-color="#00a039"/><stop offset="0.5974" stop-color="#00a771"/><stop offset="0.6011" stop-color="#00aa86"/><stop offset="0.6236" stop-color="#00a7b2"/><stop offset="0.6442" stop-color="#0099dd"/><stop offset="0.6816" stop-color="#0077dd"/><stop offset="0.7116" stop-color="#0000dd"/><stop offset="0.7397" stop-color="#0000cf"/><stop offset="0.7416" stop-color="#00aaa1"/><stop offset="0.7434" stop-color="#009900"/><stop offset="0.7472" stop-color="#009900"/><stop offset="0.7491" stop-color="#00a76d"/><stop offset="0.7509" stop-color="#00aa9c"/><stop offset="0.7528" stop-color="#0028dd"/><stop offset="0.7547" stop-color="#0000dd"/><stop offset="0.7566" stop-color="#0028dd"/><stop offset="0.7584" stop-color="#00aa9c"/><stop offset="0.7622" stop-color="#00aa9c"/><stop offset="0.764" stop-color="#00a141"/><stop offset="0.7659" stop-color="#009900"/><stop offset="0.7697" stop-color="#009900"/><stop offset="0.7715" stop-color="#00a141"/><stop offset="0.7734" stop-color="#00aa9c"/><stop offset="0.7809" stop-color="#00aa9c"/><stop offset="0.7828" stop-color="#00a141"/><stop offset="0.7846" stop-color="#009900"/><stop offset="0.7884" stop-color="#009900"/><stop offset="0.7903" stop-color="#00a141"/><stop offset="0.7921" stop-color="#00aa9c"/><stop offset="0.7978" stop-color="#00aa9c"/><stop offset="0.7996" stop-color="#00a141"/><stop offset="0.8015" stop-color="#009900"/><stop offset="0.8034" stop-color="#009900"/><stop offset="0.8052" stop-color="#00a141"/><stop offset="0.8071" stop-color="#00aa9c"/><stop offset="0.8258" stop-color="#00aa9c"/><stop offset="0.8277" stop-color="#007add"/><stop offset="0.8296" stop-color="#880099"/><stop offset="0.9026" stop-color="#7c008d"/><stop offset="0.912" stop-color="#760086"/><stop offset="0.9251" stop-color="#470052"/><stop offset="0.9345" stop-color="#2d0033"/><stop offset="0.9569" stop-color="#0d000f"/><stop offset="0.9719" stop-color="#000000"/><stop offset="1" stop-color="#000000"/></linearGradient><linearGradient id="g1_11" gradientUnits="userSpaceOnUse" x1="328" x2="595" y1="0" y2="0"><stop offset="0" stop-color="#00ff00"/><stop offset="0.001873" stop-color="#00ff00"/><stop offset="0.003745" stop-color="#0099dd"/><stop offset="0.005618" stop-color="#300036"/><stop offset="0.1816" stop-color="#300036"/><stop offset="0.191" stop-color="#43004c"/><stop offset="0.1985" stop-color="#5f006d"/><stop offset="0.2022" stop-color="#770088"/><stop offset="0.2266" stop-color="#880099"/><stop offset="0.2322" stop-color="#0000aa"/><stop offset="0.2434" stop-color="#0000dd"/><stop offset="0.2584" stop-color="#0077dd"/><stop offset="0.2865" stop-color="#009ada"/><stop offset="0.3277" stop-color="#00aaa5"/><stop offset="0.3633" stop-color="#00aa88"/><stop offset="0.3876" stop-color="#00a039"/><stop offset="0.3989" stop-color="#009c18"/><stop offset="0.4045" stop-color="#009a00"/><stop offset="0.4195" stop-color="#00a300"/><stop offset="0.4326" stop-color="#00a800"/><stop offset="0.4476" stop-color="#00b900"/><stop offset="0.4663" stop-color="#00b300"/><stop offset="0.4831" stop-color="#00bd00"/><stop offset="0.5" stop-color="#00b700"/><stop offset="0.5169" stop-color="#00be00"/><stop offset="0.5337" stop-color="#00b300"/><stop offset="0.5524" stop-color="#00b900"/><stop offset="0.5637" stop-color="#00ab00"/><stop offset="0.5824" stop-color="#009903"/><stop offset="0.5899" stop-color="#00a039"/><stop offset="0.5974" stop-color="#00a771"/><stop offset="0.6011" stop-color="#00aa86"/><stop offset="0.6236" stop-color="#00a7b2"/><stop offset="0.6442" stop-color="#0099dd"/><stop offset="0.6816" stop-color="#0077dd"/><stop offset="0.7116" stop-color="#0000dd"/><stop offset="0.7397" stop-color="#0000cf"/><stop offset="0.7416" stop-color="#00aaa1"/><stop offset="0.7434" stop-color="#009900"/><stop offset="0.7472" stop-color="#009900"/><stop offset="0.7491" stop-color="#00a76d"/><stop offset="0.7509" stop-color="#00aa9c"/><stop offset="0.7528" stop-color="#0028dd"/><stop offset="0.7547" stop-color="#0000dd"/><stop offset="0.7566" stop-color="#0028dd"/><stop offset="0.7584" stop-color="#00aa9c"/><stop offset="0.7622" stop-color="#00aa9c"/><stop offset="0.764" stop-color="#00a141"/><stop offset="0.7659" stop-color="#009900"/><stop offset="0.7697" stop-color="#009900"/><stop offset="0.7715" stop-color="#00a141"/><stop offset="0.7734" stop-color="#00aa9c"/><stop offset="0.7809" stop-color="#00aa9c"/><stop offset="0.7828" stop-color="#00a141"/><stop offset="0.7846" stop-color="#009900"/><stop offset="0.7884" stop-color="#009900"/><stop offset="0.7903" stop-color="#00a141"/><stop offset="0.7921" stop-color="#00aa9c"/><stop offset="0.7978" stop-color="#00aa9c"/><stop offset="0.7996" stop-color="#00a141"/><stop offset="0.8015" stop-color="#009900"/><stop offset="0.8034" stop-color="#009900"/><stop offset="0.8052" stop-color="#00a141"/><stop offset="0.8071" stop-color="#00aa9c"/><stop offset="0.8258" stop-color="#00aa9c"/><stop offset="0.8277" stop-color="#007add"/><stop offset="0.8296" stop-color="#880099"/><stop offset="0.9026" stop-color="#7c008d"/><stop offset="0.912" stop-color="#760086"/><stop offset="0.9251" stop-color="#470052"/><stop offset="0.9345" stop-color="#2d0033"/><stop offset="0.9569" stop-color="#0d000f"/><stop offset="0.9719" stop-color="#000000"/><stop offset="1" stop-color="#000000"/></linearGradient><linearGradient id="g1_12" gradientUnits="userSpaceOnUse" x1="328" x2="595" y1="0" y2="0"><stop offset="0" stop-color="#00ff00"/><stop offset="0.001873" stop-color="#00ff00"/><stop offset="0.003745" stop-color="#0099dd"/><stop offset="0.005618" stop-color="#300036"/><stop offset="0.1816" stop-color="#300036"/><stop offset="0.191" stop-color="#43004c"/><stop offset="0.1985" stop-color="#5f006d"/><stop offset="0.2022" stop-color="#770088"/><stop offset="0.2266" stop-color="#880099"/><stop offset="0.2322" stop-color="#0000aa"/><stop offset="0.2434" stop-color="#0000dd"/><stop offset="0.2584" stop-color="#0077dd"/><stop offset="0.2865" stop-color="#009ada"/><stop offset="0.3277" stop-color="#00aaa5"/><stop offset="0.3633" stop-color="#00aa88"/><stop offset="0.3876" stop-color="#00a039"/><stop offset="0.3989" stop-color="#009c18"/><stop offset="0.4045" stop-color="#009a00"/><stop offset="0.4195" stop-color="#00a300"/><stop offset="0.4326" stop-color="#00a800"/><stop offset="0.4476" stop-color="#00b900"/><stop offset="0.4663" stop-color="#00b300"/><stop offset="0.4831" stop-color="#00bd00"/><stop offset="0.5" stop-color="#00b700"/><stop offset="0.5169" stop-color="#00be00"/><stop offset="0.5337" stop-color="#00b300"/><stop offset="0.5524" stop-color="#00b900"/><stop offset="0.5637" stop-color="#00ab00"/><stop offset="0.5824" stop-color="#009903"/><stop offset="0.5899" stop-color="#00a039"/><stop offset="0.5974" stop-color="#00a771"/><stop offset="0.6011" stop-color="#00aa86"/><stop offset="0.6236" stop-color="#00a7b2"/><stop offset="0.6442" stop-color="#0099dd"/><stop offset="0.6816" stop-color="#0077dd"/><stop offset="0.7116" stop-color="#0000dd"/><stop offset="0.7397" stop-color="#0000cf"/><stop offset="0.7416" stop-color="#00aaa1"/><stop offset="0.7434" stop-color="#009900"/><stop offset="0.7472" stop-color="#009900"/><stop offset="0.7491" stop-color="#00a76d"/><stop offset="0.7509" stop-color="#00aa9c"/><stop offset="0.7528" stop-color="#0028dd"/><stop offset="0.7547" stop-color="#0000dd"/><stop offset="0.7566" stop-color="#0028dd"/><stop offset="0.7584" stop-color="#00aa9c"/><stop offset="0.7622" stop-color="#00aa9c"/><stop offset="0.764" stop-color="#00a141"/><stop offset="0.7659" stop-color="#009900"/><stop offset="0.7697" stop-color="#009900"/><stop offset="0.7715" stop-color="#00a141"/><stop offset="0.7734" stop-color="#00aa9c"/><stop offset="0.7809" stop-color="#00aa9c"/><stop offset="0.7828" stop-color="#00a141"/><stop offset="0.7846" stop-color="#009900"/><stop offset="0.7884" stop-color="#009900"/><stop offset="0.7903" stop-color="#00a141"/><stop offset="0.7921" stop-color="#00aa9c"/><stop offset="0.7978" stop-color="#00aa9c"/><stop offset="0.7996" stop-color="#00a141"/><stop offset="0.8015" stop-color="#009900"/><stop offset="0.8034" stop-color="#009900"/><stop offset="0.8052" stop-color="#00a141"/><stop offset="0.8071" stop-color="#00aa9c"/><stop offset="0.8258" stop-color="#00aa9c"/><stop offset="0.8277" stop-color="#007add"/><stop offset="0.8296" stop-color="#880099"/><stop offset="0.9026" stop-color="#7c008d"/><stop offset="0.912" stop-color="#760086"/><stop offset="0.9251" stop-color="#470052"/><stop offset="0.9345" stop-color="#2d0033"/><stop offset="0.9569" stop-color="#0d000f"/><stop offset="0.9719" stop-color="#000000"/><stop offset="1" stop-color="#000000"/></linearGradient><linearGradient id="g1_13" gradientUnits="userSpaceOnUse" x1="328" x2="595" y1="0" y2="0"><stop offset="0" stop-color="#00ff00"/><stop offset="0.001873" stop-color="#00ff00"/><stop offset="0.003745" stop-color="#0099dd"/><stop offset="0.005618" stop-color="#300036"/><stop offset="0.1816" stop-color="#300036"/><stop offset="0.191" stop-color="#43004c"/><stop offset="0.1985" stop-color="#5f006d"/><stop offset="0.2022" stop-color="#770088"/><stop offset="0.2266" stop-color="#880099"/><stop offset="0.2322" stop-color="#0400a9"/><stop offset="0.2378" stop-color="#0000c2"/><stop offset="0.2434" stop-color="#0000db"/><stop offset="0.2472" stop-color="#0019dd"/><stop offset="0.2584" stop-color="#0071dd"/><stop offset="0.264" stop-color="#007ddd"/><stop offset="0.2884" stop-color="#009adb"/><stop offset="0.3315" stop-color="#00aaa5"/><stop offset="0.367" stop-color="#00aa87"/><stop offset="0.3876" stop-color="#00a245"/><stop offset="0.3989" stop-color="#009d24"/><stop offset="0.4064" stop-color="#009901"/><stop offset="0.4232" stop-color="#00a000"/><stop offset="0.4363" stop-color="#00aa00"/><stop offset="0.4476" stop-color="#00b600"/><stop offset="0.4663" stop-color="#00af00"/><stop offset="0.4831" stop-color="#00b900"/><stop offset="0.5" stop-color="#00b300"/><stop offset="0.5169" stop-color="#00ba00"/><stop offset="0.5337" stop-color="#00af00"/><stop offset="0.5524" stop-color="#00b600"/><stop offset="0.5637" stop-color="#00a700"/><stop offset="0.5787" stop-color="#009900"/><stop offset="0.5843" stop-color="#009c1b"/><stop offset="0.5974" stop-color="#00a97c"/><stop offset="0.5993" stop-color="#00aa87"/><stop offset="0.6217" stop-color="#00a8b1"/><stop offset="0.6442" stop-color="#0097dd"/><stop offset="0.6798" stop-color="#0077dd"/><stop offset="0.7097" stop-color="#0003dd"/><stop offset="0.7397" stop-color="#0000cd"/><stop offset="0.7416" stop-color="#00aaa1"/><stop offset="0.7434" stop-color="#009900"/><stop offset="0.7472" stop-color="#009900"/><stop offset="0.7491" stop-color="#00a76d"/><stop offset="0.7509" stop-color="#00aa9c"/><stop offset="0.7528" stop-color="#0028dd"/><stop offset="0.7547" stop-color="#0000dd"/><stop offset="0.7566" stop-color="#0028dd"/><stop offset="0.7584" stop-color="#00aa9c"/><stop offset="0.7622" stop-color="#00aa9c"/><stop offset="0.764" stop-color="#00a141"/><stop offset="0.7659" stop-color="#009900"/><stop offset="0.7697" stop-color="#009900"/><stop offset="0.7715" stop-color="#00a141"/><stop offset="0.7734" stop-color="#00aa9c"/><stop offset="0.7809" stop-color="#00aa9c"/><stop offset="0.7828" stop-color="#00a141"/><stop offset="0.7846" stop-color="#009900"/><stop offset="0.7884" stop-color="#009900"/><stop offset="0.7903" stop-color="#00a141"/><stop offset="0.7921" stop-color="#00aa9c"/><stop offset="0.7978" stop-color="#00aa9c"/><stop offset="0.7996" stop-color="#00a141"/><stop offset="0.8015" stop-color="#009900"/><stop offset="0.8034" stop-color="#009900"/><stop offset="0.8052" stop-color="#00a141"/><stop offset="0.8071" stop-color="#00aa9c"/><stop offset="0.8258" stop-color="#00aa9c"/><stop offset="0.8277" stop-color="#007add"/><stop offset="0.8296" stop-color="#880099"/><stop offset="0.9026" stop-color="#7c008d"/><stop offset="0.912" stop-color="#760086"/><stop offset="0.9251" stop-color="#470052"/><stop offset="0.9345" stop-color="#2d0033"/><stop offset="0.9569" stop-color="#0d000f"/><stop offset="0.9719" stop-color="#000000"/><stop offset="1" stop-color="#000000"/></linearGradient><linearGradient id="g1_14" gradientUnits="userSpaceOnUse" x1="328" x2="595" y1="0" y2="0"><stop offset="0" stop-color="#00ff00"/><stop offset="0.001873" stop-color="#00ff00"/><stop offset="0.003745" stop-color="#0099dd"/><stop offset="0.005618" stop-color="#300036"/><stop offset="0.1816" stop-color="#300036"/><stop offset="0.191" stop-color="#43004c"/><stop offset="0.1985" stop-color="#5f006d"/><stop offset="0.2022" stop-color="#770088"/><stop offset="0.2266" stop-color="#880099"/><stop offset="0.2322" stop-color="#0200aa"/><stop offset="0.2434" stop-color="#0000dc"/><stop offset="0.2584" stop-color="#0074dd"/><stop offset="0.2865" stop-color="#0099dc"/><stop offset="0.3296" stop-color="#00aaa5"/><stop offset="0.3652" stop-color="#00aa87"/><stop offset="0.3876" stop-color="#00a13f"/><stop offset="0.3989" stop-color="#009d1e"/><stop offset="0.4045" stop-color="#009903"/><stop offset="0.4213" stop-color="#00a100"/><stop offset="0.4345" stop-color="#00a900"/><stop offset="0.4476" stop-color="#00b700"/><stop offset="0.4663" stop-color="#00b100"/><stop offset="0.4831" stop-color="#00bb00"/><stop offset="0.5" stop-color="#00b500"/><stop offset="0.5169" stop-color="#00bc00"/><stop offset="0.5337" stop-color="#00b100"/><stop offset="0.5524" stop-color="#00b700"/><stop offset="0.5637" stop-color="#00a900"/><stop offset="0.5805" stop-color="#009900"/><stop offset="0.5861" stop-color="#009d21"/><stop offset="0.5974" stop-color="#00a877"/><stop offset="0.6011" stop-color="#00aa89"/><stop offset="0.6236" stop-color="#00a7b4"/><stop offset="0.6442" stop-color="#0098dd"/><stop offset="0.6816" stop-color="#0074dd"/><stop offset="0.7116" stop-color="#0000dc"/><stop offset="0.7397" stop-color="#0000ce"/><stop offset="0.7416" stop-color="#00aaa1"/><stop offset="0.7434" stop-color="#009900"/><stop offset="0.7472" stop-color="#009900"/><stop offset="0.7491" stop-color="#00a76d"/><stop offset="0.7509" stop-color="#00aa9c"/><stop offset="0.7528" stop-color="#0028dd"/><stop offset="0.7547" stop-color="#0000dd"/><stop offset="0.7566" stop-color="#0028dd"/><stop offset="0.7584" stop-color="#00aa9c"/><stop offset="0.7622" stop-color="#00aa9c"/><stop offset="0.764" stop-color="#00a141"/><stop offset="0.7659" stop-color="#009900"/><stop offset="0.7697" stop-color="#009900"/><stop offset="0.7715" stop-color="#00a141"/><stop offset="0.7734" stop-color="#00aa9c"/><stop offset="0.7809" stop-color="#00aa9c"/><stop offset="0.7828" stop-color="#00a141"/><stop offset="0.7846" stop-color="#009900"/><stop offset="0.7884" stop-color="#009900"/><stop offset="0.7903" stop-color="#00a141"/><stop offset="0.7921" stop-color="#00aa9c"/><stop offset="0.7978" stop-color="#00aa9c"/><stop offset="0.7996" stop-color="#00a141"/><stop offset="0.8015" stop-color="#009900"/><stop offset="0.8034" stop-color="#009900"/><stop offset="0.8052" stop-color="#00a141"/><stop offset="0.8071" stop-color="#00aa9c"/><stop offset="0.8258" stop-color="#00aa9c"/><stop offset="0.8277" stop-color="#007add"/><stop offset="0.8296" stop-color="#880099"/><stop offset="0.9026" stop-color="#7c008d"/><stop offset="0.912" stop-color="#760086"/><stop offset="0.9251" stop-color="#470052"/><stop offset="0.9345" stop-color="#2d0033"/><stop offset="0.9569" stop-color="#0d000f"/><stop offset="0.9719" stop-color="#000000"/><stop offset="1" stop-color="#000000"/></linearGradient><linearGradient id="g1_15" gradientUnits="userSpaceOnUse" x1="328" x2="595" y1="0" y2="0"><stop offset="0" stop-color="#00ff00"/><stop offset="0.001873" stop-color="#00ff00"/><stop offset="0.003745" stop-color="#0099dd"/><stop offset="0.005618" stop-color="#300036"/><stop offset="0.1816" stop-color="#300036"/><stop offset="0.191" stop-color="#43004c"/><stop offset="0.1985" stop-color="#5f006d"/><stop offset="0.2022" stop-color="#770088"/><stop offset="0.2266" stop-color="#880099"/><stop offset="0.2285" stop-color="#5b009f"/><stop offset="0.2303" stop-color="#2200a6"/><stop offset="0.2322" stop-color="#0000af"/><stop offset="0.2416" stop-color="#0000da"/><stop offset="0.2566" stop-color="#0078dd"/><stop offset="0.2809" stop-color="#009adb"/><stop offset="0.3202" stop-color="#00aaa5"/><stop offset="0.3539" stop-color="#00aa87"/><stop offset="0.3858" stop-color="#009c1b"/><stop offset="0.397" stop-color="#009a00"/><stop offset="0.4157" stop-color="#00ac00"/><stop offset="0.4326" stop-color="#00b200"/><stop offset="0.4476" stop-color="#00c300"/><stop offset="0.4644" stop-color="#00bc00"/><stop offset="0.4831" stop-color="#00c700"/><stop offset="0.5" stop-color="#00c100"/><stop offset="0.5169" stop-color="#00c800"/><stop offset="0.5337" stop-color="#00bd00"/><stop offset="0.5506" stop-color="#00c400"/><stop offset="0.5618" stop-color="#00b800"/><stop offset="0.5749" stop-color="#00a800"/><stop offset="0.5861" stop-color="#009b00"/><stop offset="0.588" stop-color="#009a06"/><stop offset="0.5974" stop-color="#00a350"/><stop offset="0.6049" stop-color="#00a97c"/><stop offset="0.6067" stop-color="#00aa88"/><stop offset="0.6292" stop-color="#00a7b4"/><stop offset="0.6479" stop-color="#009ad9"/><stop offset="0.6629" stop-color="#008edd"/><stop offset="0.6854" stop-color="#0078dd"/><stop offset="0.7116" stop-color="#000edd"/><stop offset="0.7247" stop-color="#0000dc"/><stop offset="0.7397" stop-color="#0000d4"/><stop offset="0.7416" stop-color="#00aaa0"/><stop offset="0.7434" stop-color="#009900"/><stop offset="0.7472" stop-color="#009900"/><stop offset="0.7491" stop-color="#00a76d"/><stop offset="0.7509" stop-color="#00aa9c"/><stop offset="0.7528" stop-color="#0028dd"/><stop offset="0.7547" stop-color="#0000dd"/><stop offset="0.7566" stop-color="#0028dd"/><stop offset="0.7584" stop-color="#00aa9c"/><stop offset="0.7622" stop-color="#00aa9c"/><stop offset="0.764" stop-color="#00a141"/><stop offset="0.7659" stop-color="#009900"/><stop offset="0.7697" stop-color="#009900"/><stop offset="0.7715" stop-color="#00a141"/><stop offset="0.7734" stop-color="#00aa9c"/><stop offset="0.7809" stop-color="#00aa9c"/><stop offset="0.7828" stop-color="#00a141"/><stop offset="0.7846" stop-color="#009900"/><stop offset="0.7884" stop-color="#009900"/><stop offset="0.7903" stop-color="#00a141"/><stop offset="0.7921" stop-color="#00aa9c"/><stop offset="0.7978" stop-color="#00aa9c"/><stop offset="0.7996" stop-color="#00a141"/><stop offset="0.8015" stop-color="#009900"/><stop offset="0.8034" stop-color="#009900"/><stop offset="0.8052" stop-color="#00a141"/><stop offset="0.8071" stop-color="#00aa9c"/><stop offset="0.8258" stop-color="#00aa9c"/><stop offset="0.8277" stop-color="#007cdd"/><stop offset="0.8296" stop-color="#880099"/><stop offset="0.9026" stop-color="#7c008d"/><stop offset="0.912" stop-color="#760086"/><stop offset="0.9251" stop-color="#470052"/><stop offset="0.9345" stop-color="#2d0033"/><stop offset="0.9569" stop-color="#0d000f"/><stop offset="0.9719" stop-color="#000000"/><stop offset="1" stop-color="#000000"/></linearGradient><linearGradient id="g1_16" gradientUnits="userSpaceOnUse" x1="328" x2="595" y1="0" y2="0"><stop offset="0" stop-color="#00ff00"/><stop offset="0.001873" stop-color="#00ff00"/><stop offset="0.003745" stop-color="#0099dd"/><stop offset="0.005618" stop-color="#300036"/><stop offset="0.1816" stop-color="#300036"/><stop offset="0.191" stop-color="#43004c"/><stop offset="0.1985" stop-color="#5f006d"/><stop offset="0.2022" stop-color="#770088"/><stop offset="0.2266" stop-color="#880099"/><stop offset="0.2322" stop-color="#0000aa"/><stop offset="0.2434" stop-color="#0000dd"/><stop offset="0.2584" stop-color="#0077dd"/><stop offset="0.2865" stop-color="#009ada"/><stop offset="0.3277" stop-color="#00aaa5"/><stop offset="0.3633" stop-color="#00aa88"/><stop offset="0.3876" stop-color="#00a039"/><stop offset="0.3989" stop-color="#009c18"/><stop offset="0.4045" stop-color="#009a00"/><stop offset="0.4195" stop-color="#00a300"/><stop offset="0.4326" stop-color="#00a800"/><stop offset="0.4476" stop-color="#00b900"/><stop offset="0.4663" stop-color="#00b300"/><stop offset="0.4831" stop-color="#00bd00"/><stop offset="0.5" stop-color="#00b700"/><stop offset="0.5169" stop-color="#00be00"/><stop offset="0.5337" stop-color="#00b300"/><stop offset="0.5524" stop-color="#00b900"/><stop offset="0.5637" stop-color="#00ab00"/><stop offset="0.5824" stop-color="#009903"/><stop offset="0.5899" stop-color="#00a039"/><stop offset="0.5974" stop-color="#00a771"/><stop offset="0.6011" stop-color="#00aa86"/><stop offset="0.6236" stop-color="#00a7b2"/><stop offset="0.6442" stop-color="#0099dd"/><stop offset="0.6816" stop-color="#0077dd"/><stop offset="0.7116" stop-color="#0000dd"/><stop offset="0.7397" stop-color="#0000cf"/><stop offset="0.7416" stop-color="#00aaa1"/><stop offset="0.7434" stop-color="#009900"/><stop offset="0.7472" stop-color="#009900"/><stop offset="0.7491" stop-color="#00a76d"/><stop offset="0.7509" stop-color="#00aa9c"/><stop offset="0.7528" stop-color="#0028dd"/><stop offset="0.7547" stop-color="#0000dd"/><stop offset="0.7566" stop-color="#0028dd"/><stop offset="0.7584" stop-color="#00aa9c"/><stop offset="0.7622" stop-color="#00aa9c"/><stop offset="0.764" stop-color="#00a141"/><stop offset="0.7659" stop-color="#009900"/><stop offset="0.7697" stop-color="#009900"/><stop offset="0.7715" stop-color="#00a141"/><stop offset="0.7734" stop-color="#00aa9c"/><stop offset="0.7809" stop-color="#00aa9c"/><stop offset="0.7828" stop-color="#00a141"/><stop offset="0.7846" stop-color="#009900"/><stop offset="0.7884" stop-color="#009900"/><stop offset="0.7903" stop-color="#00a141"/><stop offset="0.7921" stop-color="#00aa9c"/><stop offset="0.7978" stop-color="#00aa9c"/><stop offset="0.7996" stop-color="#00a141"/><stop offset="0.8015" stop-color="#009900"/><stop offset="0.8034" stop-color="#009900"/><stop offset="0.8052" stop-color="#00a141"/><stop offset="0.8071" stop-color="#00aa9c"/><stop offset="0.8258" stop-color="#00aa9c"/><stop offset="0.8277" stop-color="#007add"/><stop offset="0.8296" stop-color="#880099"/><stop offset="0.9026" stop-color="#7c008d"/><stop offset="0.912" stop-color="#760086"/><stop offset="0.9251" stop-color="#470052"/><stop offset="0.9345" stop-color="#2d0033"/><stop offset="0.9569" stop-color="#0d000f"/><stop offset="0.9719" stop-color="#000000"/><stop offset="1" stop-color="#000000"/></linearGradient><linearGradient id="g1_17" gradientUnits="userSpaceOnUse" x1="328" x2="595" y1="0" y2="0"><stop offset="0" stop-color="#00ff00"/><stop offset="0.001873" stop-color="#00ff00"/><stop offset="0.003745" stop-color="#0099dd"/><stop offset="0.005618" stop-color="#300036"/><stop offset="0.1816" stop-color="#300036"/><stop offset="0.191" stop-color="#43004c"/><stop offset="0.1985" stop-color="#5f006d"/><stop offset="0.2022" stop-color="#770088"/><stop offset="0.2266" stop-color="#880099"/><stop offset="0.2322" stop-color="#0000aa"/><stop offset="0.2434" stop-color="#0000dd"/><stop offset="0.2584" stop-color="#0077dd"/><stop offset="0.2865" stop-color="#009ada"/><stop offset="0.3277" stop-color="#00aaa5"/><stop offset="0.3633" stop-color="#00aa88"/><stop offset="0.3876" stop-color="#00a039"/><stop offset="0.3989" stop-color="#009c18"/><stop offset="0.4045" stop-color="#009a00"/><stop offset="0.4195" stop-color="#00a300"/><stop offset="0.4326" stop-color="#00a800"/><stop offset="0.4476" stop-color="#00b900"/><stop offset="0.4663" stop-color="#00b300"/><stop offset="0.4831" stop-color="#00bd00"/><stop offset="0.5" stop-color="#00b700"/><stop offset="0.5169" stop-color="#00be00"/><stop offset="0.5337" stop-color="#00b300"/><stop offset="0.5524" stop-color="#00b900"/><stop offset="0.5637" stop-color="#00ab00"/><stop offset="0.5824" stop-color="#009903"/><stop offset="0.5899" stop-color="#00a039"/><stop offset="0.5974" stop-color="#00a771"/><stop offset="0.6011" stop-color="#00aa86"/><stop offset="0.6236" stop-color="#00a7b2"/><stop offset="0.6442" stop-color="#0099dd"/><stop offset="0.6816" stop-color="#0077dd"/><stop offset="0.7116" stop-color="#0000dd"/><stop offset="0.7397" stop-color="#0000cf"/><stop offset="0.7416" stop-color="#00aaa1"/><stop offset="0.7434" stop-color="#009900"/><stop offset="0.7472" stop-color="#009900"/><stop offset="0.7491" stop-color="#00a76d"/><stop offset="0.7509" stop-color="#00aa9c"/><stop offset="0.7528" stop-color="#0028dd"/><stop offset="0.7547" stop-color="#0000dd"/><stop offset="0.7566" stop-color="#0028dd"/><stop offset="0.7584" stop-color="#00aa9c"/><stop offset="0.7622" stop-color="#00aa9c"/><stop offset="0.764" stop-color="#00a141"/><stop offset="0.7659" stop-color="#009900"/><stop offset="0.7697" stop-color="#009900"/><stop offset="0.7715" stop-color="#00a141"/><stop offset="0.7734" stop-color="#00aa9c"/><stop offset="0.7809" stop-color="#00aa9c"/><stop offset="0.7828" stop-color="#00a141"/><stop offset="0.7846" stop-color="#009900"/><stop offset="0.7884" stop-color="#009900"/><stop offset="0.7903" stop-color="#00a141"/><stop offset="0.7921" stop-color="#00aa9c"/><stop offset="0.7978" stop-color="#00aa9c"/><stop offset="0.7996" stop-color="#00a141"/><stop offset="0.8015" stop-color="#009900"/><stop offset="0.8034" stop-color="#009900"/><stop offset="0.8052" stop-color="#00a141"/><stop offset="0.8071" stop-color="#00aa9c"/><stop offset="0.8258" stop-color="#00aa9c"/><stop offset="0.8277" stop-color="#007add"/><stop offset="0.8296" stop-color="#880099"/><stop offset="0.9026" stop-color="#7c008d"/><stop offset="0.912" stop-color="#760086"/><stop offset="0.9251" stop-color="#470052"/><stop offset="0.9345" stop-color="#2d0033"/><stop offset="0.9569" stop-color="#0d000f"/><stop offset="0.9719" stop-color="#000000"/><stop offset="1" stop-color="#000000"/></linearGradient><linearGradient id="g1_18" gradientUnits="userSpaceOnUse" x1="328" x2="595" y1="0" y2="0"><stop offset="0" stop-color="#00ff00"/><stop offset="0.001873" stop-color="#00ff00"/><stop offset="0.003745" stop-color="#0099dd"/><stop offset="0.005618" stop-color="#300036"/><stop offset="0.1816" stop-color="#300036"/><stop offset="0.191" stop-color="#43004c"/><stop offset="0.1985" stop-color="#5f006d"/><stop offset="0.2022" stop-color="#770088"/><stop offset="0.2266" stop-color="#880099"/><stop offset="0.2303" stop-color="#2a00a5"/><stop offset="0.2322" stop-color="#0000ac"/><stop offset="0.2416" stop-color="#0000d6"/><stop offset="0.2434" stop-color="#0005dd"/><stop offset="0.2566" stop-color="#006edd"/><stop offset="0.2584" stop-color="#0079dd"/><stop offset="0.2846" stop-color="#009ada"/><stop offset="0.3258" stop-color="#00aaa5"/><stop offset="0.3596" stop-color="#00aa88"/><stop offset="0.3876" stop-color="#009f2e"/><stop offset="0.3989" stop-color="#009a0c"/><stop offset="0.4026" stop-color="#009a00"/><stop offset="0.4176" stop-color="#00a600"/><stop offset="0.4326" stop-color="#00ab00"/><stop offset="0.4476" stop-color="#00bc00"/><stop offset="0.4644" stop-color="#00b500"/><stop offset="0.4831" stop-color="#00c000"/><stop offset="0.5" stop-color="#00ba00"/><stop offset="0.5169" stop-color="#00c100"/><stop offset="0.5337" stop-color="#00b600"/><stop offset="0.5506" stop-color="#00bd00"/><stop offset="0.5618" stop-color="#00b100"/><stop offset="0.5749" stop-color="#00a200"/><stop offset="0.5843" stop-color="#009902"/><stop offset="0.5974" stop-color="#00a666"/><stop offset="0.6049" stop-color="#00aa8a"/><stop offset="0.6273" stop-color="#00a6b6"/><stop offset="0.6461" stop-color="#0099dd"/><stop offset="0.6835" stop-color="#0075dd"/><stop offset="0.7116" stop-color="#0005dd"/><stop offset="0.7228" stop-color="#0000d9"/><stop offset="0.7397" stop-color="#0000d1"/><stop offset="0.7416" stop-color="#00aaa0"/><stop offset="0.7434" stop-color="#009900"/><stop offset="0.7472" stop-color="#009900"/><stop offset="0.7491" stop-color="#00a76d"/><stop offset="0.7509" stop-color="#00aa9c"/><stop offset="0.7528" stop-color="#0028dd"/><stop offset="0.7547" stop-color="#0000dd"/><stop offset="0.7566" stop-color="#0028dd"/><stop offset="0.7584" stop-color="#00aa9c"/><stop offset="0.7622" stop-color="#00aa9c"/><stop offset="0.764" stop-color="#00a141"/><stop offset="0.7659" stop-color="#009900"/><stop offset="0.7697" stop-color="#009900"/><stop offset="0.7715" stop-color="#00a141"/><stop offset="0.7734" stop-color="#00aa9c"/><stop offset="0.7809" stop-color="#00aa9c"/><stop offset="0.7828" stop-color="#00a141"/><stop offset="0.7846" stop-color="#009900"/><stop offset="0.7884" stop-color="#009900"/><stop offset="0.7903" stop-color="#00a141"/><stop offset="0.7921" stop-color="#00aa9c"/><stop offset="0.7978" stop-color="#00aa9c"/><stop offset="0.7996" stop-color="#00a141"/><stop offset="0.8015" stop-color="#009900"/><stop offset="0.8034" stop-color="#009900"/><stop offset="0.8052" stop-color="#00a141"/><stop offset="0.8071" stop-color="#00aa9c"/><stop offset="0.8258" stop-color="#00aa9c"/><stop offset="0.8277" stop-color="#007bdd"/><stop offset="0.8296" stop-color="#880099"/><stop offset="0.9026" stop-color="#7c008d"/><stop offset="0.912" stop-color="#760086"/><stop offset="0.9251" stop-color="#470052"/><stop offset="0.9345" stop-color="#2d0033"/><stop offset="0.9569" stop-color="#0d000f"/><stop offset="0.9719" stop-color="#000000"/><stop offset="1" stop-color="#000000"/></linearGradient><linearGradient id="g1_19" gradientUnits="userSpaceOnUse" x1="328" x2="595" y1="0" y2="0"><stop offset="0" stop-color="#00ff00"/><stop offset="0.001873" stop-color="#00ff00"/><stop offset="0.003745" stop-color="#0099dd"/><stop offset="0.005618" stop-color="#3c0044"/><stop offset="0.1854" stop-color="#3c0044"/><stop offset="0.1891" stop-color="#470052"/><stop offset="0.3127" stop-color="#470052"/><stop offset="0.3165" stop-color="#580065"/><stop offset="0.4682" stop-color="#580065"/><stop offset="0.4738" stop-color="#51005c"/><stop offset="0.5487" stop-color="#53005f"/><stop offset="0.6292" stop-color="#560062"/><stop offset="0.633" stop-color="#4a0054"/><stop offset="0.8146" stop-color="#4a0054"/><stop offset="0.8184" stop-color="#400049"/><stop offset="0.912" stop-color="#3c0045"/><stop offset="0.9663" stop-color="#000000"/><stop offset="1" stop-color="#000000"/></linearGradient><linearGradient id="g1_20" gradientUnits="userSpaceOnUse" x1="328" x2="595" y1="0" y2="0"><stop offset="0" stop-color="#00ff00"/><stop offset="0.001873" stop-color="#00ff00"/><stop offset="0.003745" stop-color="#0099dd"/><stop offset="0.005618" stop-color="#390041"/><stop offset="0.2247" stop-color="#390041"/><stop offset="0.2303" stop-color="#400049"/><stop offset="0.7809" stop-color="#3e0047"/><stop offset="0.912" stop-color="#37003f"/><stop offset="0.9682" stop-color="#000000"/><stop offset="1" stop-color="#000000"/></linearGradient><linearGradient id="g1_21" gradientUnits="userSpaceOnUse" x1="328" x2="595" y1="0" y2="0"><stop offset="0" stop-color="#00ff00"/><stop offset="0.001873" stop-color="#00ff00"/><stop offset="0.003745" stop-color="#0099dd"/><stop offset="0.005618" stop-color="#300036"/><stop offset="0.161" stop-color="#300036"/><stop offset="0.1685" stop-color="#470052"/><stop offset="0.1742" stop-color="#770088"/><stop offset="0.1929" stop-color="#880099"/><stop offset="0.1948" stop-color="#3300a4"/><stop offset="0.1966" stop-color="#0000b0"/><stop offset="0.2022" stop-color="#0000dd"/><stop offset="0.2079" stop-color="#0063dd"/><stop offset="0.2097" stop-color="#007fdd"/><stop offset="0.2116" stop-color="#0093dd"/><stop offset="0.2135" stop-color="#00a0c9"/><stop offset="0.2154" stop-color="#00a9ad"/><stop offset="0.2191" stop-color="#00aa88"/><stop offset="0.221" stop-color="#00a13f"/><stop offset="0.2228" stop-color="#009b00"/><stop offset="0.2247" stop-color="#00ad00"/><stop offset="0.2322" stop-color="#00dd00"/><stop offset="0.2434" stop-color="#00ff00"/><stop offset="0.2584" stop-color="#70ff00"/><stop offset="0.2734" stop-color="#bbff00"/><stop offset="0.3202" stop-color="#eeed00"/><stop offset="0.3858" stop-color="#f6dd00"/><stop offset="0.485" stop-color="#f5e000"/><stop offset="0.5225" stop-color="#ebef00"/><stop offset="0.5581" stop-color="#bbff00"/><stop offset="0.603" stop-color="#00ff00"/><stop offset="0.6348" stop-color="#00d300"/><stop offset="0.661" stop-color="#00a900"/><stop offset="0.6742" stop-color="#009902"/><stop offset="0.6985" stop-color="#00a76d"/><stop offset="0.7041" stop-color="#00aa88"/><stop offset="0.721" stop-color="#00a8b1"/><stop offset="0.7322" stop-color="#0099dd"/><stop offset="0.7397" stop-color="#008ddd"/><stop offset="0.7416" stop-color="#00a87b"/><stop offset="0.7434" stop-color="#00a700"/><stop offset="0.7472" stop-color="#00a700"/><stop offset="0.7491" stop-color="#009e29"/><stop offset="0.7509" stop-color="#00aa88"/><stop offset="0.7528" stop-color="#0094dd"/><stop offset="0.7547" stop-color="#008bdd"/><stop offset="0.7566" stop-color="#0094dd"/><stop offset="0.7584" stop-color="#00aa88"/><stop offset="0.7622" stop-color="#00aa88"/><stop offset="0.764" stop-color="#009903"/><stop offset="0.7659" stop-color="#00a700"/><stop offset="0.7697" stop-color="#00a700"/><stop offset="0.7715" stop-color="#009903"/><stop offset="0.7734" stop-color="#00aa88"/><stop offset="0.7809" stop-color="#00aa88"/><stop offset="0.7828" stop-color="#009903"/><stop offset="0.7846" stop-color="#00a700"/><stop offset="0.7884" stop-color="#00a700"/><stop offset="0.7903" stop-color="#009903"/><stop offset="0.7921" stop-color="#00aa88"/><stop offset="0.7978" stop-color="#00aa88"/><stop offset="0.7996" stop-color="#009903"/><stop offset="0.8015" stop-color="#00a700"/><stop offset="0.8034" stop-color="#00a700"/><stop offset="0.8052" stop-color="#009903"/><stop offset="0.8071" stop-color="#00aa88"/><stop offset="0.8258" stop-color="#00aa88"/><stop offset="0.8277" stop-color="#0099dd"/><stop offset="0.8296" stop-color="#0000dc"/><stop offset="0.8783" stop-color="#0000c5"/><stop offset="0.8914" stop-color="#0000aa"/><stop offset="0.897" stop-color="#880099"/><stop offset="0.9288" stop-color="#770088"/><stop offset="0.9457" stop-color="#36003e"/><stop offset="0.9607" stop-color="#110013"/><stop offset="0.9757" stop-color="#000000"/><stop offset="1" stop-color="#000000"/></linearGradient></defs><rect x="48" y="28.00" width="267" height="17.70" fill="url(#g0_0)"/><rect x="48" y="44.70" width="267" height="17.70" fill="url(#g0_1)"/><rect x="48" y="61.41" width="267" height="17.70" fill="url(#g0_2)"/><rect x="48" y="78.11" width="267" height="17.70" fill="url(#g0_3)"/><rect x="48" y="94.82" width="267" height="17.70" fill="url(#g0_4)"/><rect x="48" y="111.52" width="267" height="17.70" fill="url(#g0_5)"/><rect x="48" y="128.23" width="267" height="17.70" fill="url(#g0_6)"/><rect x="48" y="144.93" width="267" height="17.70" fill="url(#g0_7)"/><rect x="48" y="161.64" width="267" height="17.70" fill="url(#g0_8)"/><rect x="48" y="178.34" width="267" height="17.70" fill="url(#g0_9)"/><rect x="48" y="195.05" width="267" height="17.70" fill="url(#g0_10)"/><rect x="48" y="211.75" width="267" height="17.70" fill="url(#g0_11)"/><rect x="48" y="228.45" width="267" height="17.70" fill="url(#g0_12)"/><rect x="48" y="245.16" width="267" height="17.70" fill="url(#g0_13)"/><rect x="48" y="261.86" width="267" height="17.70" fill="url(#g0_14)"/><rect x="48" y="278.57" width="267" height="17.70" fill="url(#g0_15)"/><rect x="48" y="295.27" width="267" height="17.70" fill="url(#g0_16)"/><rect x="48" y="311.98" width="267" height="17.70" fill="url(#g0_17)"/><rect x="48" y="328.68" width="267" height="17.70" fill="url(#g0_18)"/><rect x="48" y="345.39" width="267" height="17.70" fill="url(#g0_19)"/><rect x="48" y="362.09" width="267" height="17.70" fill="url(#g0_20)"/><rect x="48" y="378.80" width="267" height="17.00" fill="url(#g0_21)"/><rect x="328" y="28.00" width="267" height="17.70" fill="url(#g1_0)"/><rect x="328" y="44.70" width="267" height="17.70" fill="url(#g1_1)"/><rect x="328" y="61.41" width="267" height="17.70" fill="url(#g1_2)"/><rect x="328" y="78.11" width="267" height="17.70" fill="url(#g1_3)"/><rect x="328" y="94.82" width="267" height="17.70" fill="url(#g1_4)"/><rect x="328" y="111.52" width="267" height="17.70" fill="url(#g1_5)"/><rect x="328" y="128.23" width="267" height="17.70" fill="url(#g1_6)"/><rect x="328" y="144.93" width="267" height="17.70" fill="url(#g1_7)"/><rect x="328" y="161.64" width="267" height="17.70" fill="url(#g1_8)"/><rect x="328" y="178.34" width="267" height="17.70" fill="url(#g1_9)"/><rect x="328" y="195.05" width="267" height="17.70" fill="url(#g1_10)"/><rect x="328" y="211.75" width="267" height="17.70" fill="url(#g1_11)"/><rect x="328" y="228.45" width="267" height="17.70" fill="url(#g1_12)"/><rect x="328" y="245.16" width="267" height="17.70" fill="url(#g1_13)"/><rect x="328" y="261.86" width="267" height="17.70" fill="url(#g1_14)"/><rect x="328" y="278.57" width="267" height="17.70" fill="url(#g1_15)"/><rect x="328" y="295.27" width="267" height="17.70" fill="url(#g1_16)"/><rect x="328" y="311.98" width="267" height="17.70" fill="url(#g1_17)"/><rect x="328" y="328.68" width="267" height="17.70" fill="url(#g1_18)"/><rect x="328" y="345.39" width="267" height="17.70" fill="url(#g1_19)"/><rect x="328" y="362.09" width="267" height="17.70" fill="url(#g1_20)"/><rect x="328" y="378.80" width="267" height="17.00" fill="url(#g1_21)"/><rect x="159.80" y="195.05" width="1.20" height="33.41" fill="#00e400"/><rect x="159.80" y="228.45" width="1.20" height="16.70" fill="#4bff00"/><rect x="159.75" y="245.16" width="1.30" height="16.70" fill="#cff800"/><rect x="159.80" y="261.86" width="1.20" height="16.70" fill="#00eb00"/><rect x="159.90" y="278.57" width="1.00" height="16.70" fill="#00cf00"/><rect x="157.00" y="245.16" width="2.80" height="16.70" fill="#00ee00"/><rect x="166.75" y="195.05" width="1.00" height="33.41" fill="#00dd00"/><rect x="166.75" y="228.45" width="1.00" height="16.70" fill="#70ff00"/><rect x="157.10" y="94.82" width="1.30" height="16.70" fill="#00f100"/><rect x="148.00" y="328.68" width="1.00" height="16.70" fill="#70ff00"/><rect x="148.10" y="362.09" width="0.80" height="33.41" fill="#ffcc00"/><rect x="284.80" y="289.00" width="0.90" height="6.00" fill="#0030dd"/><rect x="427.75" y="278.57" width="1.00" height="16.70" fill="#e4f100"/><rect x="427.75" y="328.68" width="1.00" height="16.70" fill="#e4f100"/><rect x="427.75" y="378.80" width="1.00" height="16.70" fill="#ff5c00"/><rect x="440.25" y="178.34" width="1.00" height="33.41" fill="#00dd00"/><rect x="440.25" y="211.75" width="1.00" height="16.70" fill="#4bff00"/><rect x="440.25" y="228.45" width="1.00" height="16.70" fill="#00f100"/><rect x="447.00" y="228.45" width="1.00" height="16.70" fill="#cff800"/><rect x="438.00" y="245.16" width="1.00" height="16.70" fill="#96ff00"/><rect x="519.55" y="261.86" width="0.90" height="16.70" fill="#005fdd"/><clipPath id="cL"><rect x="48" y="28" width="267" height="367.8"/></clipPath><clipPath id="cR"><rect x="328" y="28" width="267" height="367.8"/></clipPath><clipPath id="cT"><rect x="0" y="0" width="315.3" height="440"/></clipPath><g clip-path="url(#cL)"><polyline points="47.0,142.0 49.3,299.0 92.0,299.3 96.0,298.0 99.0,295.0 103.0,288.0 108.0,268.0 113.0,253.0 116.0,246.0 123.0,223.0 130.5,205.0 135.5,194.0 141.0,189.0 148.0,185.5 155.0,181.0 160.5,178.0 164.0,176.0 167.5,173.0 171.0,169.5 174.0,166.5 176.2,165.3 178.5,166.0 181.2,167.5 184.0,164.5 186.9,162.2 189.5,165.5 191.9,169.3 194.0,168.7 196.2,168.4 198.5,172.0 200.5,177.5 203.0,182.5 205.0,185.0 207.5,191.5 211.0,197.0 215.0,205.0 218.0,213.0 223.0,222.0 228.0,230.0 235.0,238.0 239.0,243.5 240.0,241.0 241.0,247.0 244.0,258.0 246.0,262.0" fill="none" stroke="#fff" stroke-width="4.2" stroke-linejoin="round" stroke-linecap="butt" /><polyline points="265.0,264.0 268.7,267.5 270.0,278.0 275.0,280.0 280.0,283.0 285.0,286.0 292.5,296.0 298.7,302.5 304.0,304.5 316.0,305.5" fill="none" stroke="#fff" stroke-width="4" stroke-linejoin="round" stroke-linecap="butt" /><polyline points="107.7,269.6 112.7,254.6 115.7,247.6 122.7,224.6 130.2,206.6 135.2,195.6 140.7,190.6 147.7,187.1 154.7,182.6 160.2,179.6 163.7,177.6 167.2,174.6 170.7,171.1 173.7,168.1 175.9,166.9 178.2,167.6 180.9,169.1 183.7,166.1 186.6,163.8 189.2,167.1 191.6,170.9 193.7,170.3 195.9,170.0 198.2,173.6 200.2,179.1 202.7,184.1 204.7,186.6 207.2,193.1 210.7,198.6 214.7,206.6 217.7,214.6 222.7,223.6 227.7,231.6 234.7,239.6 238.7,245.1 239.7,242.6 240.7,248.6" fill="none" stroke="#fff" stroke-width="3.6" stroke-linejoin="round" stroke-linecap="butt" /><polyline points="108.6,266.3 113.6,251.3 116.6,244.3 123.6,221.3 131.1,203.3 136.1,192.3 141.6,187.3 148.6,183.8 155.6,179.3 161.1,176.3 164.6,174.3 168.1,171.3 171.6,167.8 174.6,164.8 176.8,163.6 179.1,164.3 181.8,165.8 184.6,162.8 187.5,160.5 190.1,163.8 192.5,167.6 194.6,167.0 196.8,166.7 199.1,170.3 201.1,175.8 203.6,180.8 205.6,183.3 208.1,189.8 211.6,195.3 215.6,203.3 218.6,211.3 223.6,220.3 228.6,228.3 235.6,236.3 239.6,241.8" fill="none" stroke="#fff" stroke-width="3.4" stroke-linejoin="round" stroke-linecap="butt" /><polyline points="123.8,227.4 131.3,209.4 136.3,198.4 141.8,193.4 148.8,189.9 155.8,185.4 161.3,182.4 164.8,180.4 168.3,177.4 171.8,173.9 174.8,170.9 177.1,169.7 179.3,170.4 182.1,171.9 184.8,168.9 187.7,166.6 190.3,169.9 192.7,173.7 194.8,173.1 197.1,172.8 199.3,176.4 201.3,181.9 203.8,186.9 205.8,189.4 208.3,195.9 211.8,201.4 215.8,209.4 218.8,217.4 223.8,226.4 228.8,234.4 235.8,242.4" fill="none" stroke="#fff" stroke-width="3.4" stroke-linejoin="round" stroke-linecap="butt" /><polygon points="245.6,263.0 245.7,200.0 246.0,163.0 249.0,163.0 249.6,180.0 250.6,194.0 252.6,194.0 253.7,174.0 256.2,174.0 256.2,167.0 259.2,167.0 259.8,196.0 260.8,196.0 261.2,172.7 263.6,172.7 264.4,205.0 265.9,227.5 268.0,227.5 268.6,250.0 270.0,270.0 266.0,266.0 265.0,260.0 263.5,257.0 261.5,264.0 259.5,257.0 257.5,263.0 255.5,256.0 253.5,263.0 251.5,257.0 249.5,264.0 247.5,258.0" fill="#fff"/><rect x="284.00" y="227.00" width="2.20" height="58.00" fill="#fff"/><rect x="48" y="142" width="1.5" height="157" fill="#fff"/><rect x="147.50" y="130.50" width="2.50" height="55.50" fill="#fff"/><rect x="156.75" y="129.50" width="2.30" height="52.50" fill="#fff"/><rect x="159.00" y="118.75" width="2.60" height="62.25" fill="#fff"/><rect x="165.75" y="124.25" width="2.50" height="51.75" fill="#fff"/></g><g clip-path="url(#cR)"><polyline points="327.0,135.0 329.3,301.0 373.0,301.0 377.0,299.5 380.0,296.7 385.0,285.5 390.0,263.0 394.0,248.0 400.0,227.5 405.0,216.0 410.0,206.0 417.5,195.0 424.0,190.0 430.0,185.0 436.0,180.0 442.5,175.0 448.0,170.0 452.5,166.0 456.0,161.5 458.0,159.6 460.0,160.5 462.5,162.6 465.0,159.5 466.9,157.8 469.0,160.5 471.5,165.2 473.5,165.6 475.6,166.0 478.0,171.0 480.0,176.5 485.0,185.0 489.0,192.0 492.5,200.0 496.0,207.0 500.0,215.0 506.0,226.0 512.5,238.0 517.5,248.0 520.3,253.0 521.0,237.0 522.0,237.0 522.8,256.0 526.0,261.0" fill="none" stroke="#fff" stroke-width="4.2" stroke-linejoin="round" stroke-linecap="butt" /><polyline points="550.0,272.0 550.6,276.5 557.5,280.5 562.0,284.5 565.5,287.0 572.0,294.5 577.5,300.5 585.0,305.0 596.0,306.8" fill="none" stroke="#fff" stroke-width="4" stroke-linejoin="round" stroke-linecap="butt" /><polyline points="389.7,264.6 393.7,249.6 399.7,229.1 404.7,217.6 409.7,207.6 417.2,196.6 423.7,191.6 429.7,186.6 435.7,181.6 442.2,176.6 447.7,171.6 452.2,167.6 455.7,163.1 457.7,161.2 459.7,162.1 462.2,164.2 464.7,161.1 466.6,159.4 468.7,162.1 471.2,166.8 473.2,167.2 475.3,167.6 477.7,172.6 479.7,178.1 484.7,186.6 488.7,193.6 492.2,201.6 495.7,208.6 499.7,216.6 505.7,227.6 512.2,239.6 517.2,249.6" fill="none" stroke="#fff" stroke-width="3.6" stroke-linejoin="round" stroke-linecap="butt" /><polyline points="390.6,261.3 394.6,246.3 400.6,225.8 405.6,214.3 410.6,204.3 418.1,193.3 424.6,188.3 430.6,183.3 436.6,178.3 443.1,173.3 448.6,168.3 453.1,164.3 456.6,159.8 458.6,157.9 460.6,158.8 463.1,160.9 465.6,157.8 467.5,156.1 469.6,158.8 472.1,163.5 474.1,163.9 476.2,164.3 478.6,169.3 480.6,174.8 485.6,183.3 489.6,190.3 493.1,198.3 496.6,205.3 500.6,213.3 506.6,224.3 513.1,236.3" fill="none" stroke="#fff" stroke-width="3.4" stroke-linejoin="round" stroke-linecap="butt" /><polyline points="400.8,231.9 405.8,220.4 410.8,210.4 418.3,199.4 424.8,194.4 430.8,189.4 436.8,184.4 443.3,179.4 448.8,174.4 453.3,170.4 456.8,165.9 458.8,164.0 460.8,164.9 463.3,167.0 465.8,163.9 467.7,162.2 469.8,164.9 472.3,169.6 474.3,170.0 476.4,170.4 478.8,175.4 480.8,180.9 485.8,189.4 489.8,196.4 493.3,204.4 496.8,211.4 500.8,219.4 506.8,230.4" fill="none" stroke="#fff" stroke-width="3.4" stroke-linejoin="round" stroke-linecap="butt" /><polygon points="525.8,210.0 526.0,150.0 529.0,150.0 529.6,165.0 530.3,177.5 531.0,158.0 534.0,158.0 534.5,165.0 536.0,166.0 537.5,162.5 539.5,162.5 540.0,160.0 543.6,160.0 545.6,195.0 547.2,211.0 525.8,211.0" fill="#fff"/><polygon points="525.8,210.0 532.7,210.0 532.6,252.0 531.0,258.0 529.5,254.0 528.0,260.0 526.5,257.0 525.8,262.0" fill="#fff"/><polygon points="535.4,210.0 542.2,210.0 541.2,250.0 538.2,250.0 537.5,219.0 535.6,212.0" fill="#fff"/><polygon points="542.6,210.0 547.2,210.0 547.7,215.0 550.2,224.0 551.4,277.0 548.3,277.0 548.0,236.0 545.8,236.0 543.2,216.0" fill="#fff"/><rect x="564.50" y="241.70" width="2.20" height="45.30" fill="#fff"/><rect x="328" y="135.5" width="1.5" height="165" fill="#fff"/><rect x="427.75" y="72.50" width="2.50" height="115.50" fill="#fff"/><rect x="439.25" y="128.00" width="2.50" height="50.00" fill="#fff"/><rect x="437.30" y="146.00" width="2.00" height="34.00" fill="#fff"/><rect x="446.50" y="118.00" width="2.50" height="54.00" fill="#fff"/></g><g font-family="Liberation Sans, sans-serif"><text x="12.76" y="42.15" font-size="14.00" fill="#000" textLength="19.74" lengthAdjust="spacingAndGlyphs" >On</text><text x="611.80" y="42.15" font-size="14.00" fill="#000" textLength="19.74" lengthAdjust="spacingAndGlyphs" >On</text><text x="23.98" y="58.86" font-size="14.00" fill="#000" textLength="8.54" lengthAdjust="spacingAndGlyphs" >Y</text><text x="611.77" y="58.86" font-size="14.00" fill="#000" textLength="8.54" lengthAdjust="spacingAndGlyphs" >Y</text><text x="12.00" y="75.56" font-size="14.00" fill="#000" textLength="20.74" lengthAdjust="spacingAndGlyphs" >Off</text><text x="611.80" y="75.56" font-size="14.00" fill="#000" textLength="20.74" lengthAdjust="spacingAndGlyphs" >Off</text><text x="24.12" y="92.27" font-size="14.00" fill="#000" textLength="8.37" lengthAdjust="spacingAndGlyphs" >P</text><text x="611.80" y="92.27" font-size="14.00" fill="#000" textLength="8.37" lengthAdjust="spacingAndGlyphs" >P</text><text x="21.57" y="108.97" font-size="14.00" fill="#000" textLength="10.94" lengthAdjust="spacingAndGlyphs" >O</text><text x="611.80" y="108.97" font-size="14.00" fill="#000" textLength="10.94" lengthAdjust="spacingAndGlyphs" >O</text><text x="22.11" y="125.67" font-size="14.00" fill="#000" textLength="10.39" lengthAdjust="spacingAndGlyphs" >N</text><text x="611.80" y="125.67" font-size="14.00" fill="#000" textLength="10.39" lengthAdjust="spacingAndGlyphs" >N</text><text x="20.52" y="142.38" font-size="14.00" fill="#000" textLength="11.99" lengthAdjust="spacingAndGlyphs" >M</text><text x="611.80" y="142.38" font-size="14.00" fill="#000" textLength="11.99" lengthAdjust="spacingAndGlyphs" >M</text><text x="24.76" y="159.08" font-size="14.00" fill="#000" textLength="7.74" lengthAdjust="spacingAndGlyphs" >L</text><text x="611.80" y="159.08" font-size="14.00" fill="#000" textLength="7.74" lengthAdjust="spacingAndGlyphs" >L</text><text x="23.39" y="175.79" font-size="14.00" fill="#000" textLength="9.40" lengthAdjust="spacingAndGlyphs" >K</text><text x="611.80" y="175.79" font-size="14.00" fill="#000" textLength="9.40" lengthAdjust="spacingAndGlyphs" >K</text><text x="27.67" y="192.49" font-size="14.00" fill="#000" textLength="4.83" lengthAdjust="spacingAndGlyphs" >J</text><text x="611.07" y="192.49" font-size="14.00" fill="#000" textLength="4.83" lengthAdjust="spacingAndGlyphs" >J</text><text x="28.40" y="209.20" font-size="14.00" fill="#000" textLength="4.09" lengthAdjust="spacingAndGlyphs" >I</text><text x="611.80" y="209.20" font-size="14.00" fill="#000" textLength="4.09" lengthAdjust="spacingAndGlyphs" >I</text><text x="22.05" y="225.90" font-size="14.00" fill="#000" textLength="10.44" lengthAdjust="spacingAndGlyphs" >H</text><text x="611.80" y="225.90" font-size="14.00" fill="#000" textLength="10.44" lengthAdjust="spacingAndGlyphs" >H</text><text x="21.74" y="242.61" font-size="14.00" fill="#000" textLength="10.76" lengthAdjust="spacingAndGlyphs" >G</text><text x="611.80" y="242.61" font-size="14.00" fill="#000" textLength="10.76" lengthAdjust="spacingAndGlyphs" >G</text><text x="24.51" y="259.31" font-size="14.00" fill="#000" textLength="7.99" lengthAdjust="spacingAndGlyphs" >F</text><text x="611.80" y="259.31" font-size="14.00" fill="#000" textLength="7.99" lengthAdjust="spacingAndGlyphs" >F</text><text x="23.72" y="276.02" font-size="14.00" fill="#000" textLength="8.78" lengthAdjust="spacingAndGlyphs" >E</text><text x="611.80" y="276.02" font-size="14.00" fill="#000" textLength="8.78" lengthAdjust="spacingAndGlyphs" >E</text><text x="21.80" y="292.72" font-size="14.00" fill="#000" textLength="10.70" lengthAdjust="spacingAndGlyphs" >D</text><text x="611.80" y="292.72" font-size="14.00" fill="#000" textLength="10.70" lengthAdjust="spacingAndGlyphs" >D</text><text x="22.80" y="309.43" font-size="14.00" fill="#000" textLength="9.70" lengthAdjust="spacingAndGlyphs" >C</text><text x="611.80" y="309.43" font-size="14.00" fill="#000" textLength="9.70" lengthAdjust="spacingAndGlyphs" >C</text><text x="22.97" y="326.13" font-size="14.00" fill="#000" textLength="9.53" lengthAdjust="spacingAndGlyphs" >B</text><text x="611.80" y="326.13" font-size="14.00" fill="#000" textLength="9.53" lengthAdjust="spacingAndGlyphs" >B</text><text x="23.00" y="342.83" font-size="14.00" fill="#000" textLength="9.49" lengthAdjust="spacingAndGlyphs" >A</text><text x="611.80" y="342.83" font-size="14.00" fill="#000" textLength="9.49" lengthAdjust="spacingAndGlyphs" >A</text><text x="12.00" y="359.54" font-size="14.00" fill="#000" textLength="20.74" lengthAdjust="spacingAndGlyphs" >Off</text><text x="611.80" y="359.54" font-size="14.00" fill="#000" textLength="20.74" lengthAdjust="spacingAndGlyphs" >Off</text><text x="22.98" y="376.24" font-size="14.00" fill="#000" textLength="9.51" lengthAdjust="spacingAndGlyphs" >X</text><text x="611.80" y="376.24" font-size="14.00" fill="#000" textLength="9.51" lengthAdjust="spacingAndGlyphs" >X</text><text x="12.76" y="392.95" font-size="14.00" fill="#000" textLength="19.74" lengthAdjust="spacingAndGlyphs" >On</text><text x="611.80" y="392.95" font-size="14.00" fill="#000" textLength="19.74" lengthAdjust="spacingAndGlyphs" >On</text><rect x="69.0" y="282.85" width="5.8" height="1.1" fill="#fff"/><text x="78.60" y="289.00" font-size="14.00" fill="#fff" textLength="8.85" lengthAdjust="spacingAndGlyphs" >0</text><rect x="350.0" y="282.85" width="5.8" height="1.1" fill="#fff"/><text x="359.60" y="289.00" font-size="14.00" fill="#fff" textLength="8.85" lengthAdjust="spacingAndGlyphs" >0</text><text x="309.46" y="289.00" font-size="14.00" fill="#fff" textLength="8.85" lengthAdjust="spacingAndGlyphs" clip-path="url(#cT)">0</text><rect x="69.0" y="234.85" width="5.8" height="1.1" fill="#fff"/><text x="78.60" y="241.00" font-size="14.00" fill="#fff" textLength="8.85" lengthAdjust="spacingAndGlyphs" >5</text><rect x="350.0" y="234.85" width="5.8" height="1.1" fill="#fff"/><text x="359.60" y="241.00" font-size="14.00" fill="#fff" textLength="8.85" lengthAdjust="spacingAndGlyphs" >5</text><text x="309.46" y="241.00" font-size="14.00" fill="#fff" textLength="8.85" lengthAdjust="spacingAndGlyphs" clip-path="url(#cT)">5</text><rect x="69.0" y="186.85" width="5.8" height="1.1" fill="#fff"/><text x="78.60" y="193.00" font-size="14.00" fill="#fff" textLength="17.67" lengthAdjust="spacingAndGlyphs" >10</text><rect x="350.0" y="186.85" width="5.8" height="1.1" fill="#fff"/><text x="359.60" y="193.00" font-size="14.00" fill="#fff" textLength="17.67" lengthAdjust="spacingAndGlyphs" >10</text><text x="300.62" y="193.00" font-size="14.00" fill="#fff" textLength="17.67" lengthAdjust="spacingAndGlyphs" clip-path="url(#cT)">10</text><rect x="69.0" y="138.85" width="5.8" height="1.1" fill="#fff"/><text x="78.60" y="145.00" font-size="14.00" fill="#fff" textLength="17.67" lengthAdjust="spacingAndGlyphs" >15</text><rect x="350.0" y="138.85" width="5.8" height="1.1" fill="#fff"/><text x="359.60" y="145.00" font-size="14.00" fill="#fff" textLength="17.67" lengthAdjust="spacingAndGlyphs" >15</text><text x="300.62" y="145.00" font-size="14.00" fill="#fff" textLength="17.67" lengthAdjust="spacingAndGlyphs" clip-path="url(#cT)">15</text><rect x="69.0" y="90.85" width="5.8" height="1.1" fill="#fff"/><text x="78.60" y="97.00" font-size="14.00" fill="#fff" textLength="17.67" lengthAdjust="spacingAndGlyphs" >20</text><rect x="350.0" y="90.85" width="5.8" height="1.1" fill="#fff"/><text x="359.60" y="97.00" font-size="14.00" fill="#fff" textLength="17.67" lengthAdjust="spacingAndGlyphs" >20</text><text x="300.62" y="97.00" font-size="14.00" fill="#fff" textLength="17.67" lengthAdjust="spacingAndGlyphs" clip-path="url(#cT)">20</text><rect x="69.0" y="42.85" width="5.8" height="1.1" fill="#fff"/><text x="78.60" y="49.00" font-size="14.00" fill="#fff" textLength="17.67" lengthAdjust="spacingAndGlyphs" >25</text><rect x="350.0" y="42.85" width="5.8" height="1.1" fill="#fff"/><text x="359.60" y="49.00" font-size="14.00" fill="#fff" textLength="17.67" lengthAdjust="spacingAndGlyphs" >25</text><text x="300.62" y="49.00" font-size="14.00" fill="#fff" textLength="17.67" lengthAdjust="spacingAndGlyphs" clip-path="url(#cT)">25</text><rect x="48.90" y="408.1" width="0.9" height="5.4" fill="#262626"/><text x="46.48" y="425.90" font-size="10.90" fill="#262626" textLength="5.74" lengthAdjust="spacingAndGlyphs" >0</text><rect x="89.50" y="408.1" width="0.9" height="5.4" fill="#262626"/><text x="84.21" y="425.90" font-size="10.90" fill="#262626" textLength="11.47" lengthAdjust="spacingAndGlyphs" >50</text><rect x="130.10" y="408.1" width="0.9" height="5.4" fill="#262626"/><text x="121.95" y="425.90" font-size="10.90" fill="#262626" textLength="17.20" lengthAdjust="spacingAndGlyphs" >100</text><rect x="170.70" y="408.1" width="0.9" height="5.4" fill="#262626"/><text x="162.55" y="425.90" font-size="10.90" fill="#262626" textLength="17.20" lengthAdjust="spacingAndGlyphs" >150</text><rect x="211.30" y="408.1" width="0.9" height="5.4" fill="#262626"/><text x="203.15" y="425.90" font-size="10.90" fill="#262626" textLength="17.20" lengthAdjust="spacingAndGlyphs" >200</text><rect x="251.90" y="408.1" width="0.9" height="5.4" fill="#262626"/><text x="243.75" y="425.90" font-size="10.90" fill="#262626" textLength="17.20" lengthAdjust="spacingAndGlyphs" >250</text><rect x="292.50" y="408.1" width="0.9" height="5.4" fill="#262626"/><text x="284.35" y="425.90" font-size="10.90" fill="#262626" textLength="17.20" lengthAdjust="spacingAndGlyphs" >300</text><rect x="328.90" y="408.1" width="0.9" height="5.4" fill="#262626"/><text x="326.48" y="425.90" font-size="10.90" fill="#262626" textLength="5.74" lengthAdjust="spacingAndGlyphs" >0</text><rect x="369.50" y="408.1" width="0.9" height="5.4" fill="#262626"/><text x="364.21" y="425.90" font-size="10.90" fill="#262626" textLength="11.47" lengthAdjust="spacingAndGlyphs" >50</text><rect x="410.10" y="408.1" width="0.9" height="5.4" fill="#262626"/><text x="401.95" y="425.90" font-size="10.90" fill="#262626" textLength="17.20" lengthAdjust="spacingAndGlyphs" >100</text><rect x="450.70" y="408.1" width="0.9" height="5.4" fill="#262626"/><text x="442.55" y="425.90" font-size="10.90" fill="#262626" textLength="17.20" lengthAdjust="spacingAndGlyphs" >150</text><rect x="491.30" y="408.1" width="0.9" height="5.4" fill="#262626"/><text x="483.15" y="425.90" font-size="10.90" fill="#262626" textLength="17.20" lengthAdjust="spacingAndGlyphs" >200</text><rect x="531.90" y="408.1" width="0.9" height="5.4" fill="#262626"/><text x="523.75" y="425.90" font-size="10.90" fill="#262626" textLength="17.20" lengthAdjust="spacingAndGlyphs" >250</text><rect x="572.50" y="408.1" width="0.9" height="5.4" fill="#262626"/><text x="564.35" y="425.90" font-size="10.90" fill="#262626" textLength="17.20" lengthAdjust="spacingAndGlyphs" >300</text><text x="85.14" y="15.70" font-size="17.00" fill="#000" textLength="192.72" lengthAdjust="spacingAndGlyphs" >28.2 (HexS30=1066) X</text><text x="365.76" y="15.70" font-size="17.00" fill="#000" textLength="191.52" lengthAdjust="spacingAndGlyphs" >28.2 (HexS30=1066) Y</text><text transform="translate(3.6,217.5) rotate(-90)" font-size="14" text-anchor="middle" fill="#262626" textLength="43" lengthAdjust="spacingAndGlyphs">Dipole</text></g></svg></body></html>
